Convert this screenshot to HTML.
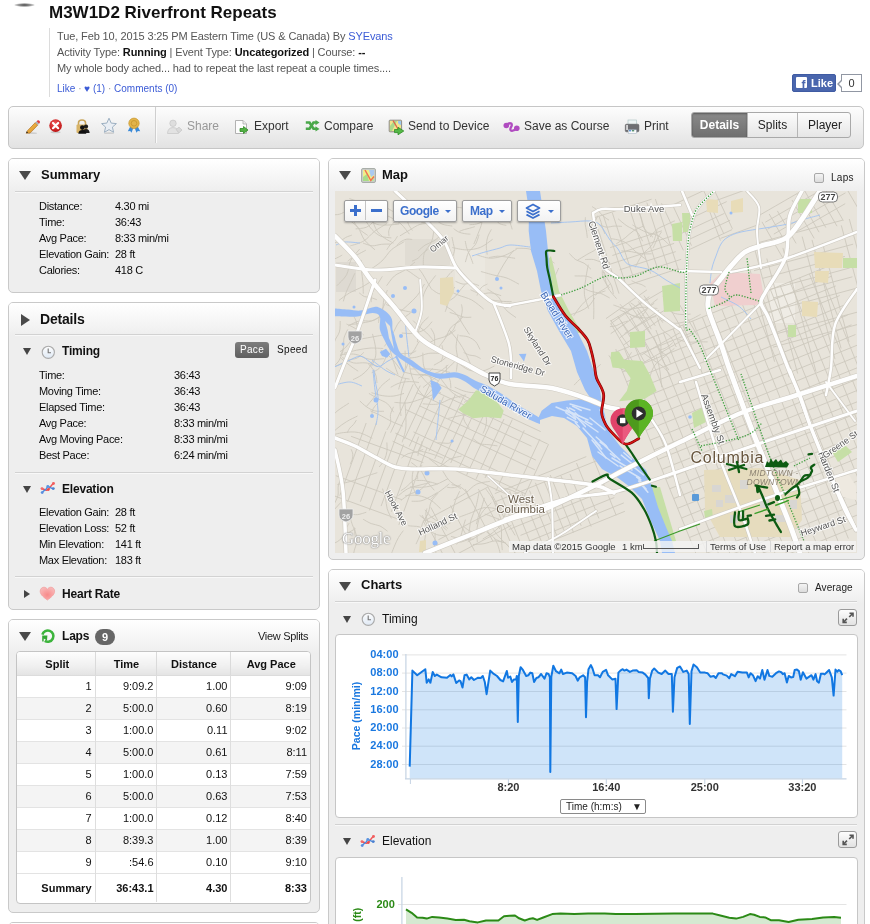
<!DOCTYPE html>
<html><head><meta charset="utf-8">
<style>
*{box-sizing:border-box}
html,body{margin:0;padding:0;background:#fff}
body{width:870px;height:924px;overflow:hidden;position:relative;font-family:"Liberation Sans",Arial,sans-serif;color:#222}
.a{position:absolute;white-space:nowrap}
.blob{left:14px;top:3px;width:21px;height:4px;border-radius:50%;background:radial-gradient(ellipse at center,#444 0%,rgba(80,80,80,.55) 45%,rgba(255,255,255,0) 75%)}
.title{left:49px;top:3px;font-size:17px;font-weight:bold;color:#111;line-height:20px}
.vline{left:49px;top:28px;width:1px;height:69px;background:#dcdcdc}
.meta{left:57px;font-size:11px;color:#555;line-height:14px;letter-spacing:-0.12px}
.meta b{color:#111}
.meta .lnk{color:#3b5bd6}
.likes{left:57px;top:83px;font-size:10px;color:#3b5bd6;line-height:12px}
.likes .dot{color:#999}
.fb{left:792px;top:74px;width:44px;height:18px;background:#4a66ad;border:1px solid #3f5ba3;border-radius:2px}
.fbcount{left:841px;top:74px;width:21px;height:18px;border:1px solid #9197a3;background:#fff;font-size:11px;color:#333;text-align:center;line-height:16px}
.fbcount:before{content:"";position:absolute;left:-5px;top:5px;width:0;height:0;border-top:4px solid transparent;border-bottom:4px solid transparent;border-right:4px solid #9197a3}
.fbcount:after{content:"";position:absolute;left:-3px;top:6px;width:0;height:0;border-top:3px solid transparent;border-bottom:3px solid transparent;border-right:3px solid #fff}

.toolbar{left:8px;top:106px;width:856px;height:43px;border:1px solid #c6c6c6;border-radius:5px;background:linear-gradient(#fdfdfd,#f1f1f1 45%,#e2e2e2)}
.tb{font-size:12px;color:#333;top:119px;line-height:14px}
.tbsep{left:155px;top:107px;width:1px;height:36px;background:#cfcfcf;box-shadow:1px 0 0 #fafafa}
.btngrp{left:691px;top:112px;height:26px;width:160px;border:1px solid #a9a9a9;border-radius:3px;overflow:hidden;background:linear-gradient(#fcfcfc,#e6e6e6)}
.btngrp div{position:absolute;top:0;height:24px;font-size:12px;line-height:24px;text-align:center;color:#222}

.panel{border:1px solid #c9c9c9;border-radius:5px;background:#eeeeee;overflow:hidden}
.phead{position:absolute;left:0;top:0;right:0;height:33px;background:linear-gradient(#ffffff,#eeeeee)}
.ptitle{font-size:13px;font-weight:bold;color:#111;line-height:16px}
.tri-d{width:0;height:0;border-left:6px solid transparent;border-right:6px solid transparent;border-top:9px solid #4a4a4a}
.tri-ds{width:0;height:0;border-left:4.5px solid transparent;border-right:4.5px solid transparent;border-top:7px solid #444}
.tri-r{width:0;height:0;border-top:6px solid transparent;border-bottom:6px solid transparent;border-left:9px solid #4a4a4a}
.tri-rs{width:0;height:0;border-top:4.5px solid transparent;border-bottom:4.5px solid transparent;border-left:6px solid #444}
.sep{height:1px;background:#d2d2d2;box-shadow:0 1px 0 #f8f8f8}
.lbl{font-size:11px;color:#0a0a0a;letter-spacing:-0.3px;line-height:16px}
.sub{font-size:12px;font-weight:bold;color:#111;letter-spacing:-0.2px;line-height:14px}
.pace{left:235px;top:342px;width:34px;height:16px;border-radius:3px;background:linear-gradient(#7d7d7d,#5f5f5f);color:#fff;font-size:10px;line-height:16px;text-align:center;letter-spacing:0.3px}
.badge{left:95px;top:629px;width:20px;height:16px;border-radius:8px;background:#666;color:#fff;font-size:11px;font-weight:bold;line-height:16px;text-align:center}
.laptbl{left:16px;top:651px;width:295px;height:253px;border:1px solid #c4c4c4;border-radius:4px;background:#fff;overflow:hidden}
.laptbl table{border-collapse:collapse;table-layout:fixed;width:293px}
.laptbl th{height:23px;padding:2px 0 0 2px;font-size:11px;font-weight:bold;color:#111;text-align:center;background:linear-gradient(#fdfdfd,#f0f0f0 60%,#e4e4e4);border-left:1px solid #dadada;border-bottom:1px solid #dcdcdc;line-height:14px}
.laptbl td{height:22px;padding:0 2px 0 0;font-size:11px;color:#111;text-align:right;border-left:1px solid #dedede;border-top:1px solid #e3e3e3;line-height:14px}
.laptbl th:first-child,.laptbl td:first-child{border-left:none;padding-right:3px}
.laptbl th:first-child{padding-left:6px}
.laptbl td:last-child{padding-right:3px}
.laptbl tr.even td{background:#f4f4f4}
.laptbl tr.sm td{height:29px;font-weight:bold;color:#111}
.chk{width:10px;height:10px;border:1px solid #a8a8a8;border-radius:2px;background:linear-gradient(#f4f4f4,#dcdcdc)}
.mapbox{left:335px;top:191px;width:522px;height:362px;border:1px solid #c2c2c2;border-radius:3px;overflow:hidden;background:#e9e5dc}
.chartbox{background:#fff;border:1px solid #c6c6c6;border-radius:4px}
.expbtn{width:19px;height:17px;border:1px solid #9a9a9a;border-radius:3px;background:linear-gradient(#fdfdfd,#e2e2e2)}
.seldd{left:560px;top:799px;width:86px;height:15px;border:1px solid #8a8a8a;border-radius:2px;background:#fff;font-size:10px;line-height:13px;color:#222}
.seldd span{position:absolute;left:5px;top:0}
.seldd .arr{left:71px;font-size:10px}
.mctl{background:linear-gradient(#ffffff,#f2f2f2);border:1px solid #9d9d9d;border-radius:2px;box-shadow:0 1px 2px rgba(0,0,0,.3)}
.mplus{position:absolute;background:#3b6fcc}
.mtxt{position:absolute;top:3px;font-size:12px;font-weight:bold;color:#3b6fcc;line-height:15px;letter-spacing:-0.45px}
.mcar{position:absolute;top:9px;width:0;height:0;border-left:3px solid transparent;border-right:3px solid transparent;border-top:3px solid #3b6fcc}
.gl{left:342px;top:529px;font-family:"Liberation Serif",serif;font-size:17px;color:#fff;letter-spacing:-0.3px;text-shadow:0 0 1px #666,0 0 2px #999}
.attr1,.attr2,.attr3,.attr4{top:541px;height:11px;background:rgba(245,245,245,.78);font-size:9.5px;color:#333;line-height:11px;padding:0 3px}
.attr1{left:509px;width:109px}
.attr2{left:618px;width:88px}
.attr3{left:706px;width:64px;border-left:1px solid #d8d8d8}
.attr4{left:770px;width:86px;border-left:1px solid #d8d8d8}
.sbar{position:absolute;left:25px;top:3px;width:56px;height:5px;border:1.5px solid #555;border-top:none}
</style></head>
<body>
<!-- HEADER -->
<div class="a blob"></div>
<div class="a title">M3W1D2 Riverfront Repeats</div>
<div class="a vline"></div>
<div class="a meta" style="top:29px">Tue, Feb 10, 2015 3:25 PM Eastern Time (US &amp; Canada) By <span class="lnk">SYEvans</span></div>
<div class="a meta" style="top:45px">Activity Type: <b>Running</b> | Event Type: <b>Uncategorized</b> | Course: <b>--</b></div>
<div class="a meta" style="top:61px">My whole body ached... had to repeat the last repeat a couple times....</div>
<div class="a likes">Like <span class="dot">·</span> ♥ (1) <span class="dot">·</span> Comments (0)</div>
<div class="a fb"><div style="position:absolute;left:3px;top:2px;width:11px;height:11px;background:#fff;border-radius:1px"></div><div style="position:absolute;left:8.5px;top:3.5px;font-family:'Liberation Sans';font-weight:bold;font-size:12px;line-height:12px;color:#4a66ad">f</div><div style="position:absolute;left:18px;top:1px;font-size:11px;font-weight:bold;color:#fff;line-height:14px">Like</div></div>
<div class="a fbcount">0</div>

<!-- TOOLBAR -->
<div class="a toolbar"></div>
<div class="a tbsep"></div>
<!--TBICONS-->
<svg class="a" style="left:24px;top:118px" width="16" height="17" viewBox="0 0 16 17">
 <defs><linearGradient id="pb" x1="0" y1="0" x2="1" y2="1"><stop offset="0" stop-color="#f6c860"/><stop offset="1" stop-color="#d98a1c"/></linearGradient></defs>
 <ellipse cx="8" cy="15.2" rx="5" ry="0.9" fill="rgba(0,0,0,.12)"/>
 <path d="M3.6,12.6 L11.3,4.6 L13.8,7.1 L6.1,15.1 L2.2,15.2 Z" fill="url(#pb)" stroke="#a8661a" stroke-width="0.6"/>
 <path d="M11.3,4.6 L12.6,3.3 L15.1,5.8 L13.8,7.1Z" fill="#aab0b8"/>
 <path d="M12.6,3.3 L13.4,2.5 Q14.2,1.8 15,2.6 L15.7,3.3 Q16.3,4.1 15.6,4.9 L15.1,5.8Z" fill="#e23b3b"/>
 <path d="M2.2,15.2 L2.7,13.3 L4.1,14.7Z" fill="#222"/>
</svg>
<svg class="a" style="left:48px;top:118px" width="16" height="16" viewBox="0 0 16 16">
 <defs><radialGradient id="xr" cx="0.45" cy="0.35" r="0.7"><stop offset="0" stop-color="#f25a5a"/><stop offset="1" stop-color="#b80d0d"/></radialGradient></defs>
 <ellipse cx="7.6" cy="14.2" rx="5" ry="1" fill="rgba(0,0,0,.15)"/>
 <circle cx="7.6" cy="7.6" r="6.3" fill="url(#xr)"/>
 <path d="M5,5 L10.2,10.2 M10.2,5 L5,10.2" stroke="#fff" stroke-width="2.2" stroke-linecap="round"/>
</svg>
<svg class="a" style="left:75px;top:119px" width="16" height="16" viewBox="0 0 16 16">
 <path d="M3.5,6 V3.8 Q3.5,1 7,1 Q10.5,1 10.5,3.8 V6" fill="none" stroke="#c9a55a" stroke-width="1.6"/>
 <rect x="1.5" y="5.5" width="11" height="8.5" rx="1" fill="#d8b468"/>
 <circle cx="11" cy="7.6" r="2.1" fill="#1e1e1e"/><path d="M7.4,14 Q7.6,10 11,10 Q14.4,10 14.6,14Z" fill="#1e1e1e"/>
 <circle cx="7.3" cy="8.6" r="2.3" fill="#111"/><path d="M3.3,14.8 Q3.5,11 7.3,11 Q11.1,11 11.3,14.8Z" fill="#111"/>
</svg>
<svg class="a" style="left:100px;top:117px" width="18" height="18" viewBox="0 0 18 18">
 <ellipse cx="9" cy="16.2" rx="5" ry="0.9" fill="rgba(0,0,0,.12)"/>
 <path d="M9,1.2 L11.2,6.1 L16.4,6.6 L12.4,10.1 L13.6,15.3 L9,12.6 L4.4,15.3 L5.6,10.1 L1.6,6.6 L6.8,6.1Z" fill="#e9eef4" stroke="#9db0c2" stroke-width="1" stroke-linejoin="round"/>
</svg>
<svg class="a" style="left:126px;top:117px" width="16" height="17" viewBox="0 0 16 17">
 <path d="M4.5,9 L1.8,14.3 L4.2,14 L5.5,15.8 L7.5,10.5Z" fill="#3a8ad8"/>
 <path d="M11.5,9 L14.2,14.3 L11.8,14 L10.5,15.8 L8.5,10.5Z" fill="#3a8ad8"/>
 <circle cx="8" cy="6.3" r="5.2" fill="#e2b44a" stroke="#c8962c" stroke-width="0.7"/>
 <circle cx="8" cy="6.3" r="2.8" fill="none" stroke="#c8962c" stroke-width="0.8"/>
</svg>
<svg class="a" style="left:166px;top:119px" width="17" height="16" viewBox="0 0 17 16">
 <circle cx="7" cy="4.3" r="3.2" fill="#dedede" stroke="#c9c9c9" stroke-width="0.8"/>
 <path d="M1.5,14.5 Q1.8,8.6 7,8.6 Q12.2,8.6 12.5,14.5Z" fill="#e2e2e2" stroke="#c9c9c9" stroke-width="0.8"/>
 <path d="M10,10.5 L13,8.2 L16,11 L13,13.8Z" fill="#d9d9d9" stroke="#c6c6c6" stroke-width="0.7"/>
</svg>
<svg class="a" style="left:234px;top:119px" width="16" height="16" viewBox="0 0 16 16">
 <path d="M1.5,1.5 H9 L12.5,5 V14.5 H1.5Z" fill="#fdfdfd" stroke="#a9a9a9" stroke-width="0.9"/>
 <path d="M9,1.5 V5 H12.5" fill="#eee" stroke="#a9a9a9" stroke-width="0.8"/>
 <path d="M6,9.5 H9.5 V7.5 L14,11 L9.5,14.5 V12.5 H6Z" fill="#52b043" stroke="#2e8a24" stroke-width="0.8" stroke-linejoin="round"/>
</svg>
<svg class="a" style="left:305px;top:120px" width="15" height="12" viewBox="0 0 15 12">
 <path d="M0.8,2.5 H4.5 L8.5,8.8 H11" fill="none" stroke="#4aa84a" stroke-width="2.6"/>
 <path d="M0.8,8.8 H4.5 L8.5,2.5 H11" fill="none" stroke="#4aa84a" stroke-width="2.6"/>
 <path d="M10.5,0 L14.5,2.6 L10.5,5.2Z" fill="#4aa84a"/><path d="M10.5,6.3 L14.5,8.9 L10.5,11.5Z" fill="#4aa84a"/>
</svg>
<svg class="a" style="left:388px;top:119px" width="17" height="17" viewBox="0 0 17 17">
 <rect x="1.2" y="1.2" width="12.4" height="11.6" rx="0.8" fill="#f2e68c" stroke="#8a8a8a" stroke-width="1"/>
 <path d="M2,7 L6,2 L9,2 L4,12 L2,12Z" fill="#a9d98a"/><path d="M10,2 H13 V6 Q11,6 10,4Z" fill="#9cc8ef"/>
 <path d="M5,1.5 L10,10" stroke="#e0604a" stroke-width="1.3"/>
 <path d="M6.5,10.5 H10 V8.3 L15.8,12 L10,15.8 V13.6 H6.5Z" fill="#55b847" stroke="#2f8e25" stroke-width="0.8" stroke-linejoin="round"/>
</svg>
<svg class="a" style="left:503px;top:121px" width="18" height="12" viewBox="0 0 18 12">
 <circle cx="3.3" cy="4.5" r="2.8" fill="#b04cc0"/><circle cx="13.8" cy="7.2" r="2.8" fill="#b04cc0"/>
 <path d="M3.5,4.2 Q6,1.5 8.3,2.5 Q9.5,4 7.8,6.5 Q6.5,9.5 9,9.8 Q11.5,9.8 13.5,7.3" fill="none" stroke="#b04cc0" stroke-width="2.3" stroke-linecap="round"/>
</svg>
<svg class="a" style="left:624px;top:119px" width="16" height="16" viewBox="0 0 16 16">
 <rect x="4" y="1" width="8.6" height="4.5" fill="#eef4f4" stroke="#a8c0c0" stroke-width="0.6"/>
 <rect x="1.3" y="5.2" width="13.6" height="7.6" rx="1.2" fill="#6e6e72" stroke="#555" stroke-width="0.5"/>
 <rect x="2.3" y="6" width="1.5" height="5" fill="#eee"/>
 <rect x="4.2" y="10.8" width="8.2" height="3.8" fill="#fafafa" stroke="#9ab" stroke-width="0.5"/>
 <rect x="5" y="11.3" width="2.2" height="1" fill="#2a70c8"/><rect x="8" y="11.3" width="2.2" height="1" fill="#1a6a3a"/>
</svg>
<!--/TBICONS-->

<div class="a tb" style="left:187px;color:#999">Share</div>
<div class="a tb" style="left:254px">Export</div>
<div class="a tb" style="left:324px">Compare</div>
<div class="a tb" style="left:408px">Send to Device</div>
<div class="a tb" style="left:524px">Save as Course</div>
<div class="a tb" style="left:644px">Print</div>
<div class="a btngrp">
  <div style="left:0;width:55px;background:linear-gradient(#8a8a8a,#6f6f6f);color:#fff;font-weight:bold;box-shadow:inset 0 1px 2px rgba(0,0,0,.35)">Details</div>
  <div style="left:55px;width:50px;border-left:1px solid #b5b5b5">Splits</div>
  <div style="left:105px;width:55px;border-left:1px solid #b5b5b5">Player</div>
</div>

<!-- SUMMARY PANEL -->
<div class="a panel" style="left:8px;top:158px;width:312px;height:135px">
  <div class="phead"></div>
</div>
<div class="a tri-d" style="left:19px;top:171px"></div>
<div class="a ptitle" style="left:41px;top:167px">Summary</div>
<div class="a sep" style="left:15px;top:191px;width:298px"></div>
<div class="a lbl" style="left:39px;top:198px">Distance:<br>Time:<br>Avg Pace:<br>Elevation Gain:<br>Calories:</div>
<div class="a lbl" style="left:115px;top:198px">4.30 mi<br>36:43<br>8:33 min/mi<br>28 ft<br>418 C</div>

<!-- DETAILS PANEL -->
<div class="a panel" style="left:8px;top:302px;width:312px;height:308px">
  <div class="phead"></div>
</div>
<div class="a tri-r" style="left:21px;top:314px"></div>
<div class="a ptitle" style="left:40px;top:311px;font-size:14px;letter-spacing:-0.2px">Details</div>
<div class="a sep" style="left:15px;top:334px;width:298px"></div>

<!-- timing -->
<div class="a tri-ds" style="left:23px;top:348px"></div>
<div class="a sub" style="left:62px;top:344px">Timing</div>
<div class="a pace">Pace</div>
<div class="a" style="left:277px;top:344px;font-size:10px;color:#111;line-height:12px;letter-spacing:0.35px">Speed</div>
<div class="a lbl" style="left:39px;top:367px">Time:<br>Moving Time:<br>Elapsed Time:<br>Avg Pace:<br>Avg Moving Pace:<br>Best Pace:</div>
<div class="a lbl" style="left:174px;top:367px">36:43<br>36:43<br>36:43<br>8:33 min/mi<br>8:33 min/mi<br>6:24 min/mi</div>
<div class="a sep" style="left:15px;top:472px;width:298px"></div>
<!-- elevation -->
<div class="a tri-ds" style="left:23px;top:486px"></div>
<div class="a sub" style="left:62px;top:482px">Elevation</div>
<div class="a lbl" style="left:39px;top:504px">Elevation Gain:<br>Elevation Loss:<br>Min Elevation:<br>Max Elevation:</div>
<div class="a lbl" style="left:115px;top:504px">28 ft<br>52 ft<br>141 ft<br>183 ft</div>
<div class="a sep" style="left:15px;top:576px;width:298px"></div>
<!-- heart -->
<div class="a tri-rs" style="left:24px;top:590px"></div>
<div class="a sub" style="left:62px;top:587px">Heart Rate</div>

<!-- LAPS PANEL -->
<div class="a panel" style="left:8px;top:619px;width:312px;height:294px">
  <div class="phead"></div>
</div>
<div class="a tri-d" style="left:19px;top:632px"></div>
<div class="a sub" style="left:62px;top:629px">Laps</div>
<div class="a badge">9</div>
<div class="a" style="left:258px;top:630px;font-size:11px;color:#222;line-height:12px;letter-spacing:-0.3px">View Splits</div>

<div class="a laptbl">
<table>
<colgroup><col style="width:78px"><col style="width:61px"><col style="width:74px"><col></colgroup>
<tr class="hd"><th>Split</th><th>Time</th><th>Distance</th><th>Avg Pace</th></tr>
<tr class="odd"><td>1</td><td>9:09.2</td><td>1.00</td><td>9:09</td></tr><tr class="even"><td>2</td><td>5:00.0</td><td>0.60</td><td>8:19</td></tr><tr class="odd"><td>3</td><td>1:00.0</td><td>0.11</td><td>9:02</td></tr><tr class="even"><td>4</td><td>5:00.0</td><td>0.61</td><td>8:11</td></tr><tr class="odd"><td>5</td><td>1:00.0</td><td>0.13</td><td>7:59</td></tr><tr class="even"><td>6</td><td>5:00.0</td><td>0.63</td><td>7:53</td></tr><tr class="odd"><td>7</td><td>1:00.0</td><td>0.12</td><td>8:40</td></tr><tr class="even"><td>8</td><td>8:39.3</td><td>1.00</td><td>8:39</td></tr><tr class="odd"><td>9</td><td>:54.6</td><td>0.10</td><td>9:10</td></tr>
<tr class="sm"><td>Summary</td><td>36:43.1</td><td>4.30</td><td>8:33</td></tr>
</table>
</div>

<div class="a panel" style="left:8px;top:922px;width:312px;height:40px"><div class="phead"></div></div>
<!-- MAP PANEL -->
<div class="a panel" style="left:328px;top:158px;width:537px;height:402px">
  <div class="phead"></div>
</div>
<div class="a tri-d" style="left:339px;top:171px"></div>
<div class="a ptitle" style="left:382px;top:167px">Map</div>
<div class="a chk" style="left:814px;top:173px"></div>
<div class="a" style="left:831px;top:172px;font-size:10px;color:#222;line-height:12px;letter-spacing:0.3px">Laps</div>
<div class="a mapbox" id="map"></div>
<!--MAPSVG-->
<svg class="a" style="left:335px;top:191px" width="522" height="362" viewBox="335 191 522 362"><rect x="335" y="191" width="522" height="362" fill="#e8e4db"/>
<rect x="405" y="239" width="45" height="26" fill="#e0dcd3"/>
<rect x="336" y="262" width="20" height="30" fill="#dedad2"/>
<rect x="455" y="250" width="30" height="40" fill="#ebe8e0"/>
<rect x="770" y="283" width="25" height="40" fill="#efece5"/>
<rect x="780" y="468" width="40" height="30" fill="#ece9e2"/>
<g fill="none" stroke="#cdc8bd" stroke-width="0.9"><path d="M614.7,352.5 L712.1,593.6"/><path d="M624.4,348.6 L721.8,589.7"/><path d="M634.1,344.7 L731.5,585.7"/><path d="M643.9,340.7 L741.3,581.8"/><path d="M653.6,336.8 L751.0,577.9"/><path d="M663.4,332.9 L760.7,573.9"/><path d="M673.1,328.9 L770.5,570.0"/><path d="M682.8,325.0 L780.2,566.1"/><path d="M692.6,321.1 L790.0,562.1"/><path d="M702.3,317.1 L799.7,558.2"/><path d="M712.0,313.2 L809.4,554.3"/><path d="M721.8,309.3 L819.2,550.3"/><path d="M731.5,305.3 L828.9,546.4"/><path d="M741.2,301.4 L838.6,542.5"/><path d="M751.0,297.5 L848.4,538.5"/><path d="M760.7,293.5 L858.1,534.6"/><path d="M770.4,289.6 L867.8,530.7"/><path d="M780.2,285.7 L877.6,526.7"/><path d="M789.9,281.7 L887.3,522.8"/><path d="M799.6,277.8 L897.0,518.9"/><path d="M809.4,273.9 L906.8,514.9"/><path d="M819.1,269.9 L916.5,511.0"/><path d="M614.7,352.5 L827.9,266.4"/><path d="M618.6,362.3 L831.9,276.1"/><path d="M622.5,372.0 L835.8,285.9"/><path d="M626.5,381.8 L839.7,295.6"/><path d="M630.4,391.5 L843.7,305.3"/><path d="M634.3,401.2 L847.6,315.1"/><path d="M638.3,411.0 L851.5,324.8"/><path d="M642.2,420.7 L855.5,334.5"/><path d="M646.1,430.4 L859.4,344.3"/><path d="M650.1,440.2 L863.3,354.0"/><path d="M654.0,449.9 L867.3,363.7"/><path d="M657.9,459.6 L871.2,373.5"/><path d="M661.9,469.4 L875.1,383.2"/><path d="M665.8,479.1 L879.1,392.9"/><path d="M669.7,488.8 L883.0,402.7"/><path d="M673.7,498.6 L886.9,412.4"/><path d="M677.6,508.3 L890.9,422.2"/><path d="M681.5,518.0 L894.8,431.9"/><path d="M685.5,527.8 L898.7,441.6"/><path d="M689.4,537.5 L902.7,451.4"/><path d="M693.3,547.3 L906.6,461.1"/><path d="M697.3,557.0 L910.5,470.8"/><path d="M701.2,566.7 L914.5,480.6"/><path d="M705.1,576.5 L918.4,490.3"/><path d="M709.1,586.2 L922.3,500.0"/><path d="M748.4,263.8 L774.6,361.7"/><path d="M753.8,245.8 L789.0,377.2"/><path d="M766.8,258.5 L797.7,373.6"/><path d="M782.9,247.9 L816.0,371.6"/><path d="M802.2,236.6 L835.0,359.1"/><path d="M812.0,239.9 L841.1,348.5"/><path d="M822.5,243.2 L849.0,341.9"/><path d="M841.3,225.4 L873.5,345.6"/><path d="M849.3,219.0 L883.9,347.9"/><path d="M759.0,242.5 L842.9,220.1"/><path d="M754.0,270.7 L853.1,244.2"/><path d="M762.9,278.3 L844.9,256.4"/><path d="M766.6,290.3 L849.7,268.0"/><path d="M773.1,298.0 L852.4,276.8"/><path d="M764.6,312.9 L855.4,288.5"/><path d="M774.1,334.4 L858.9,311.7"/><path d="M772.9,347.2 L874.7,319.9"/><path d="M661.5,203.3 L683.4,250.4"/><path d="M672.3,204.4 L691.5,245.6"/><path d="M700.6,184.1 L723.9,234.0"/><path d="M709.6,180.0 L732.4,228.8"/><path d="M668.9,206.8 L711.1,187.1"/><path d="M676.7,224.9 L726.7,201.6"/><path d="M676.6,235.7 L724.4,213.4"/><path d="M686.1,240.8 L730.1,220.3"/><path d="M688.7,249.9 L732.1,229.6"/><path d="M610.8,323.5 L638.4,371.3"/><path d="M620.9,320.9 L644.9,362.6"/><path d="M630.2,316.1 L655.1,359.3"/><path d="M637.3,310.3 L662.8,354.6"/><path d="M663.1,296.5 L686.3,336.8"/><path d="M670.0,288.0 L697.4,335.6"/><path d="M610.4,321.1 L664.2,290.0"/><path d="M624.6,333.4 L677.9,302.7"/><path d="M641.1,355.1 L685.1,329.7"/><path d="M640.7,364.3 L693.5,333.8"/><path d="M597.0,226.0 L619.0,293.6"/><path d="M603.2,215.1 L626.6,287.2"/><path d="M612.3,212.7 L633.1,276.9"/><path d="M629.0,207.0 L650.7,273.8"/><path d="M638.2,208.9 L657.9,269.7"/><path d="M646.8,202.6 L667.6,266.5"/><path d="M655.4,199.1 L679.6,273.5"/><path d="M595.1,217.5 L651.6,199.2"/><path d="M610.2,247.6 L662.0,230.8"/><path d="M612.4,255.5 L671.3,236.3"/><path d="M610.0,264.2 L674.1,243.4"/><path d="M619.7,269.8 L675.7,251.6"/><path d="M618.3,279.7 L681.2,259.3"/><path d="M624.7,286.2 L678.4,268.7"/><path d="M762.0,221.9 L783.1,258.5"/><path d="M769.2,214.0 L789.2,248.7"/><path d="M777.4,210.9 L796.1,243.4"/><path d="M792.0,200.0 L814.2,238.4"/><path d="M797.2,194.1 L819.1,232.2"/><path d="M804.3,190.2 L825.8,227.5"/><path d="M814.0,186.3 L837.0,226.2"/><path d="M820.6,181.3 L843.4,220.7"/><path d="M837.3,172.5 L857.8,207.9"/><path d="M758.5,215.8 L832.0,173.4"/><path d="M765.3,222.2 L835.0,182.0"/><path d="M767.6,229.2 L839.9,187.5"/><path d="M773.8,234.1 L845.5,192.8"/><path d="M783.7,239.2 L845.2,203.7"/><path d="M709.0,209.5 L720.4,240.6"/><path d="M710.2,202.7 L744.0,190.4"/><path d="M720.5,238.4 L759.7,224.2"/><path d="M610.5,320.1 L628.9,346.4"/><path d="M617.6,316.3 L635.2,341.5"/><path d="M623.7,311.1 L644.1,340.3"/><path d="M628.8,303.2 L650.6,334.3"/><path d="M638.3,301.4 L655.3,325.8"/><path d="M643.9,295.6 L662.8,322.6"/><path d="M606.0,318.6 L646.9,289.9"/><path d="M610.6,323.7 L649.3,296.7"/><path d="M610.7,333.7 L654.3,303.2"/><path d="M619.8,337.8 L659.0,310.3"/><path d="M623.0,345.4 L664.8,316.1"/><path d="M413.2,384.3 L390.6,432.7"/><path d="M420.2,385.6 L397.0,435.3"/><path d="M430.6,382.9 L404.4,439.1"/><path d="M437.8,385.4 L409.2,446.5"/><path d="M443.7,396.5 L418.3,450.9"/><path d="M455.3,394.7 L429.0,451.1"/><path d="M464.1,395.9 L434.7,458.8"/><path d="M471.0,400.8 L441.6,463.9"/><path d="M478.8,402.7 L450.7,463.0"/><path d="M483.1,416.3 L459.2,467.5"/><path d="M494.7,414.8 L466.7,474.9"/><path d="M504.0,419.0 L476.1,478.9"/><path d="M512.3,419.6 L485.0,478.0"/><path d="M524.3,430.3 L495.9,491.1"/><path d="M539.9,439.1 L515.6,491.3"/><path d="M548.6,444.2 L520.5,504.3"/><path d="M433.2,381.5 L540.7,431.6"/><path d="M433.3,390.6 L547.7,444.0"/><path d="M416.7,392.7 L531.5,446.2"/><path d="M419.5,405.8 L535.9,460.1"/><path d="M405.6,409.5 L534.9,469.8"/><path d="M413.5,431.9 L510.7,477.2"/><path d="M395.3,433.1 L525.4,493.8"/><path d="M392.6,441.2 L518.4,499.8"/><path d="M366.2,423.0 L339.8,495.7"/><path d="M376.8,421.8 L347.6,502.1"/><path d="M385.9,431.5 L360.4,501.7"/><path d="M397.7,432.5 L369.4,510.4"/><path d="M403.6,444.4 L381.1,506.1"/><path d="M418.7,436.6 L391.3,511.8"/><path d="M427.0,447.6 L398.9,524.8"/><path d="M351.1,436.3 L423.3,462.6"/><path d="M335.9,475.7 L401.8,499.7"/><path d="M330.2,494.4 L401.1,520.2"/><path d="M491.7,496.1 L517.2,559.2"/><path d="M501.2,495.4 L525.0,554.3"/><path d="M509.6,491.0 L532.8,548.5"/><path d="M521.7,492.7 L542.6,544.4"/><path d="M529.5,490.5 L549.2,539.2"/><path d="M535.4,482.8 L557.0,536.3"/><path d="M544.1,481.2 L564.1,530.6"/><path d="M550.2,475.0 L573.5,532.5"/><path d="M561.0,475.9 L581.2,525.8"/><path d="M570.0,474.2 L591.2,526.6"/><path d="M576.5,463.1 L598.9,518.4"/><path d="M592.5,456.6 L616.2,515.3"/><path d="M494.8,493.6 L586.3,456.6"/><path d="M495.1,501.8 L598.8,459.9"/><path d="M508.8,529.5 L601.3,492.1"/><path d="M520.5,535.4 L614.3,497.5"/><path d="M515.4,546.7 L623.8,502.9"/><path d="M531.6,549.0 L624.9,511.3"/><path d="M422.1,515.1 L445.3,558.7"/><path d="M430.8,507.4 L456.7,556.2"/><path d="M450.5,505.5 L474.7,551.2"/><path d="M465.1,489.0 L492.9,541.2"/><path d="M478.4,489.1 L499.7,529.0"/><path d="M487.6,486.4 L509.1,526.9"/><path d="M425.0,520.5 L487.6,487.2"/><path d="M438.4,539.8 L501.6,506.3"/><path d="M450.5,557.6 L511.4,525.3"/><path d="M372.9,280.3 C371.0,281.4 365.5,285.1 361.6,287.2 C357.8,289.2 353.5,290.6 349.7,292.8 C345.9,295.0 340.7,299.2 338.9,300.4"/><path d="M397.5,236.2 C397.0,237.0 395.6,239.6 394.3,241.0 C393.1,242.5 391.3,243.4 390.0,244.9 C388.8,246.3 387.4,248.9 386.8,249.7"/><path d="M351.7,203.4 C350.8,204.5 348.7,208.2 346.7,210.0 C344.7,211.8 342.2,213.5 339.6,214.2 C337.1,215.0 332.7,214.6 331.4,214.7"/><path d="M387.7,208.4 C389.1,209.2 393.4,211.8 396.4,213.3 C399.3,214.9 402.2,216.7 405.3,217.7 C408.5,218.8 413.5,219.3 415.1,219.7"/><path d="M415.0,262.0 C413.4,263.3 408.7,267.5 405.3,269.8 C401.9,272.2 397.5,273.3 394.4,276.0 C391.3,278.6 387.9,284.1 386.6,285.7"/><path d="M491.4,229.4 C490.7,230.7 488.4,234.5 487.6,237.2 C486.7,240.0 486.4,243.0 486.3,245.9 C486.2,248.8 487.1,253.1 487.2,254.6"/><path d="M384.2,215.3 C382.6,216.3 377.9,218.9 374.9,220.9 C371.9,222.8 369.5,226.0 366.3,227.3 C363.0,228.6 357.4,228.6 355.6,228.9"/><path d="M431.3,223.1 C429.4,223.4 423.4,223.3 419.9,224.4 C416.3,225.6 413.1,228.1 409.8,230.0 C406.4,231.9 401.5,234.9 399.9,235.9"/><path d="M487.4,284.1 C486.6,284.5 484.0,285.4 482.6,286.5 C481.2,287.6 480.0,289.1 479.1,290.6 C478.1,292.1 477.3,294.7 477.0,295.6"/><path d="M515.1,258.3 C513.7,258.1 509.4,257.4 506.5,257.0 C503.6,256.7 500.7,256.1 497.8,256.2 C494.9,256.3 490.6,257.3 489.2,257.5"/><path d="M480.0,294.6 C481.6,295.4 486.4,298.3 489.9,299.4 C493.3,300.5 497.0,300.8 500.7,301.2 C504.3,301.6 509.8,301.6 511.6,301.6"/><path d="M365.4,220.4 C366.5,221.9 369.3,226.7 371.8,229.4 C374.3,232.0 377.3,234.6 380.5,236.1 C383.8,237.5 389.6,237.6 391.4,237.9"/><path d="M398.9,267.8 C400.2,268.2 404.3,269.0 406.7,270.1 C409.1,271.2 411.3,273.0 413.5,274.6 C415.7,276.1 419.0,278.5 420.1,279.3"/><path d="M351.4,210.1 C351.7,211.9 352.1,217.3 353.4,220.5 C354.7,223.6 356.9,226.6 359.3,229.1 C361.7,231.6 366.3,234.3 367.7,235.4"/><path d="M465.2,241.0 C465.5,242.3 466.1,246.3 467.0,248.8 C467.8,251.4 469.3,253.7 470.3,256.2 C471.3,258.7 472.6,262.6 473.0,263.8"/><path d="M404.3,241.6 C402.2,243.0 395.4,246.4 391.6,249.6 C387.9,252.9 385.6,257.6 381.9,261.0 C378.3,264.4 371.9,268.4 369.9,269.9"/><path d="M376.7,200.6 C375.1,200.6 370.5,200.4 367.4,200.5 C364.3,200.6 361.2,201.6 358.2,201.2 C355.2,200.9 350.9,199.0 349.4,198.5"/><path d="M423.0,216.3 C424.7,216.6 430.1,216.9 433.3,218.2 C436.5,219.5 438.8,222.8 442.0,224.1 C445.2,225.4 450.6,225.7 452.3,226.1"/><path d="M452.0,237.1 C452.2,238.1 452.9,241.3 453.3,243.4 C453.7,245.5 454.5,247.7 454.5,249.8 C454.4,251.9 453.2,255.0 452.9,256.0"/><path d="M359.6,249.1 C358.1,251.0 352.8,256.4 350.6,260.7 C348.5,265.0 348.9,270.6 346.6,274.8 C344.3,279.0 338.5,283.9 336.8,285.8"/><path d="M515.6,248.3 C518.0,248.4 525.3,247.9 529.8,249.1 C534.3,250.3 538.5,253.0 542.6,255.4 C546.7,257.8 552.6,261.9 554.5,263.2"/><path d="M488.4,216.0 C487.6,216.9 485.2,219.7 483.2,221.0 C481.3,222.4 478.9,223.4 476.6,224.0 C474.3,224.6 470.6,224.6 469.5,224.7"/><path d="M372.9,221.8 C373.6,223.4 375.3,228.3 377.2,231.1 C379.1,233.8 381.8,236.1 384.6,238.1 C387.3,240.1 392.0,242.2 393.4,243.1"/><path d="M470.5,289.7 C472.1,290.4 476.9,293.2 480.3,293.7 C483.7,294.3 487.4,292.6 490.9,292.9 C494.4,293.3 499.5,295.2 501.2,295.7"/><path d="M361.2,260.0 C361.3,261.8 361.3,267.5 361.6,271.2 C361.9,275.0 362.6,278.7 362.9,282.4 C363.2,286.2 363.2,291.8 363.3,293.7"/><path d="M416.6,265.9 C417.6,267.1 420.5,270.8 422.3,273.4 C424.0,276.0 425.4,278.8 427.0,281.5 C428.5,284.2 431.0,288.2 431.8,289.6"/><path d="M382.3,276.4 C381.5,277.7 378.9,281.8 377.3,284.5 C375.6,287.2 373.4,289.8 372.4,292.7 C371.4,295.7 371.3,300.6 371.1,302.2"/><path d="M363.1,243.1 C364.6,243.5 369.1,245.6 372.1,245.8 C375.2,246.0 378.3,244.6 381.4,244.3 C384.5,244.0 389.3,244.1 390.8,244.1"/><path d="M354.8,273.3 C354.1,274.9 352.0,279.5 350.6,282.6 C349.2,285.6 347.6,288.6 346.4,291.7 C345.2,294.9 343.8,299.8 343.3,301.4"/><path d="M511.2,213.6 C508.7,214.2 501.5,216.5 496.5,216.8 C491.6,217.1 486.6,215.1 481.7,215.4 C476.7,215.6 469.5,218.0 467.0,218.5"/><path d="M516.7,249.2 C514.6,250.3 508.5,254.1 504.1,255.6 C499.7,257.1 494.8,258.3 490.2,258.2 C485.6,258.0 478.7,255.3 476.4,254.7"/><path d="M351.8,235.1 C350.8,235.5 347.6,236.5 345.6,237.5 C343.7,238.5 342.2,240.2 340.2,241.2 C338.2,242.1 334.9,242.7 333.9,243.0"/><path d="M365.8,250.2 C364.8,250.8 361.7,252.4 359.6,253.5 C357.5,254.6 355.3,255.6 353.3,256.8 C351.3,258.1 348.7,260.5 347.7,261.2"/><path d="M346.6,218.2 C348.5,219.7 354.8,223.7 357.7,227.3 C360.7,230.9 361.6,236.2 364.5,240.0 C367.4,243.7 373.2,248.2 375.0,249.8"/><path d="M481.3,211.5 C481.4,213.4 482.3,219.2 481.8,222.9 C481.2,226.5 479.4,230.1 478.1,233.6 C476.8,237.2 474.5,242.4 473.8,244.1"/><path d="M444.4,288.3 C446.6,289.4 453.2,292.9 457.8,294.9 C462.4,296.8 467.5,297.7 471.8,300.0 C476.1,302.4 481.7,307.5 483.7,309.1"/><path d="M387.7,299.0 C387.0,300.3 384.8,304.0 383.5,306.6 C382.2,309.1 380.5,311.6 379.7,314.3 C378.9,317.0 378.8,321.4 378.6,322.8"/><path d="M473.8,204.8 C472.7,205.3 469.4,207.5 467.0,207.9 C464.6,208.4 462.0,207.8 459.5,207.5 C457.0,207.3 453.2,206.6 452.0,206.4"/><path d="M459.5,231.3 C460.3,231.0 462.8,230.0 464.5,229.5 C466.2,229.0 468.0,228.7 469.7,228.2 C471.4,227.8 473.9,226.9 474.8,226.7"/><path d="M432.3,289.6 C433.3,290.2 436.2,292.7 438.4,293.5 C440.6,294.2 443.3,294.5 445.7,294.1 C448.0,293.7 451.2,291.7 452.3,291.2"/><path d="M403.9,210.6 C404.3,211.8 405.7,215.1 406.5,217.4 C407.2,219.7 407.5,222.2 408.5,224.4 C409.4,226.5 411.7,229.4 412.4,230.5"/><path d="M452.3,247.5 C454.7,247.9 461.8,249.9 466.5,249.9 C471.2,249.8 476.3,249.0 480.6,247.3 C484.9,245.5 490.6,240.6 492.6,239.3"/><path d="M454.9,287.1 C454.0,288.3 450.6,291.6 449.4,294.3 C448.3,297.0 448.7,300.3 448.0,303.2 C447.3,306.1 445.7,310.4 445.2,311.8"/><path d="M441.2,235.0 C440.0,236.0 436.5,239.3 433.9,240.9 C431.2,242.6 428.0,243.3 425.3,245.0 C422.7,246.7 419.3,250.0 418.1,251.0"/><path d="M502.6,204.4 C502.9,205.9 503.0,210.6 504.1,213.3 C505.2,216.1 507.9,218.1 509.3,220.8 C510.6,223.5 511.7,227.9 512.2,229.4"/><path d="M342.2,255.1 C341.3,255.6 338.5,257.2 336.5,258.1 C334.6,259.0 332.6,259.7 330.6,260.5 C328.6,261.2 325.6,262.4 324.6,262.8"/><path d="M455.5,281.3 C456.8,281.8 460.5,283.8 463.1,284.1 C465.7,284.4 468.5,283.0 471.1,283.3 C473.8,283.5 477.6,285.2 478.9,285.6"/><path d="M480.9,271.5 C483.1,272.1 489.6,274.0 493.9,275.1 C498.3,276.2 502.8,276.6 507.0,278.1 C511.2,279.7 517.0,283.2 519.0,284.2"/><path d="M421.4,222.6 C422.7,222.4 426.3,222.2 428.7,221.6 C431.1,221.1 433.3,219.9 435.7,219.5 C438.1,219.1 441.8,219.2 443.0,219.2"/><path d="M465.1,284.5 C464.3,285.5 461.7,288.3 460.1,290.3 C458.5,292.3 457.2,294.6 455.4,296.4 C453.6,298.1 450.2,300.1 449.2,300.9"/><path d="M434.2,226.5 C433.8,228.9 433.5,236.5 431.8,241.0 C430.1,245.5 425.6,249.0 424.2,253.5 C422.8,258.1 423.5,265.7 423.4,268.2"/><path d="M386.9,223.6 C384.8,224.9 378.4,228.4 374.6,231.3 C370.8,234.2 367.9,238.5 363.9,240.9 C359.8,243.4 352.6,245.1 350.3,245.9"/><path d="M399.1,223.9 C397.3,224.1 391.6,225.0 387.9,225.0 C384.1,225.1 380.1,225.4 376.6,224.3 C373.1,223.1 368.6,219.4 366.9,218.4"/><path d="M424.5,284.0 C423.3,285.9 420.1,292.0 417.3,295.5 C414.5,299.0 411.0,302.0 407.7,305.1 C404.4,308.2 399.2,312.6 397.5,314.0"/><path d="M395.4,221.2 C394.7,221.9 392.4,223.7 391.3,225.2 C390.2,226.8 389.2,228.6 388.8,230.5 C388.4,232.3 389.0,235.3 389.0,236.2"/><path d="M359.2,292.9 C360.1,293.5 362.5,295.8 364.5,296.6 C366.4,297.4 368.7,297.0 370.8,297.6 C372.9,298.1 375.8,299.4 376.8,299.7"/><path d="M454.1,269.7 C453.4,270.3 451.2,272.1 449.9,273.5 C448.6,274.9 447.7,276.6 446.3,277.8 C444.9,279.1 442.3,280.3 441.5,280.8"/><path d="M487.5,289.1 C489.4,290.5 495.7,293.8 498.6,297.1 C501.6,300.4 502.4,305.6 505.3,309.1 C508.1,312.5 514.2,316.2 516.0,317.6"/><path d="M377.0,211.2 C379.1,212.1 385.4,214.6 389.3,216.7 C393.3,218.8 397.5,220.9 400.8,223.8 C404.1,226.7 408.0,232.4 409.4,234.2"/><path d="M453.7,228.7 C454.5,229.3 456.9,231.2 458.7,232.0 C460.5,232.8 462.5,233.2 464.5,233.6 C466.4,234.0 469.4,234.1 470.4,234.2"/><path d="M416.3,202.1 C417.0,203.2 418.9,206.6 420.4,208.8 C421.9,210.9 423.5,213.0 425.3,214.9 C427.1,216.7 430.2,219.1 431.2,220.0"/><path d="M513.5,250.4 C512.4,251.9 509.0,256.3 506.9,259.4 C504.8,262.5 502.9,265.7 501.1,268.9 C499.2,272.2 496.7,277.2 495.9,278.8"/><path d="M479.1,234.7 C478.5,236.3 477.2,241.5 475.5,244.4 C473.7,247.3 470.3,249.2 468.6,252.2 C467.0,255.1 466.0,260.4 465.4,262.1"/><path d="M487.6,217.0 C488.7,217.3 492.3,217.8 494.3,218.9 C496.3,220.0 497.5,222.6 499.5,223.6 C501.5,224.7 505.2,225.1 506.3,225.4"/><path d="M428.3,249.1 C427.4,249.8 424.6,251.8 422.9,253.3 C421.2,254.8 419.9,256.8 418.1,258.2 C416.3,259.5 413.0,260.7 412.0,261.2"/><path d="M386.9,294.4 C387.5,295.4 389.1,298.6 390.2,300.7 C391.3,302.8 392.1,305.2 393.5,307.1 C395.0,308.9 398.1,310.9 399.0,311.7"/><path d="M454.6,208.1 C452.7,208.8 447.2,211.3 443.5,212.5 C439.7,213.8 435.6,214.2 431.9,215.5 C428.1,216.8 422.7,219.3 420.8,220.1"/><path d="M412.2,239.5 C411.3,239.4 408.2,238.8 406.4,239.2 C404.5,239.6 402.7,240.6 401.0,241.6 C399.4,242.7 397.4,244.9 396.7,245.5"/><path d="M387.4,290.1 C386.8,291.5 384.8,295.5 384.1,298.3 C383.3,301.1 383.3,304.1 383.0,307.0 C382.7,309.9 382.4,314.3 382.3,315.8"/><path d="M435.7,275.4 C434.5,277.0 430.8,281.4 428.8,284.6 C426.8,287.9 424.7,291.2 423.6,294.8 C422.5,298.4 422.4,304.3 422.2,306.2"/><path d="M449.6,353.0 C448.9,353.8 446.9,356.6 445.3,358.1 C443.7,359.6 441.7,360.7 439.8,361.9 C437.9,363.0 434.9,364.6 433.9,365.2"/><path d="M356.4,337.0 C355.4,337.7 352.4,339.8 350.6,341.5 C348.8,343.2 347.6,345.5 345.8,347.2 C344.1,348.9 341.0,351.0 340.0,351.7"/><path d="M449.7,312.4 C450.9,312.8 454.4,313.9 456.8,314.7 C459.1,315.5 461.4,316.8 463.8,317.2 C466.3,317.6 470.1,317.2 471.3,317.2"/><path d="M382.6,315.1 C380.8,316.1 375.6,319.8 371.7,320.8 C367.9,321.7 363.4,320.1 359.4,320.9 C355.5,321.8 350.1,325.0 348.2,325.9"/><path d="M390.0,378.7 C388.4,380.0 383.2,383.7 380.6,386.7 C377.9,389.8 376.5,393.9 374.1,397.2 C371.7,400.5 367.5,405.1 366.2,406.7"/><path d="M353.9,316.5 C354.3,317.3 355.7,319.6 356.2,321.3 C356.8,323.0 357.0,324.8 357.1,326.6 C357.2,328.4 356.9,331.0 356.9,331.9"/><path d="M405.1,350.6 C405.1,351.7 405.0,354.9 405.1,357.0 C405.3,359.1 405.9,361.3 405.8,363.4 C405.8,365.5 405.1,368.7 405.0,369.7"/><path d="M458.0,334.4 C457.7,336.5 456.2,342.6 456.1,346.7 C456.1,350.9 457.6,355.0 457.6,359.2 C457.6,363.3 456.5,369.5 456.3,371.6"/><path d="M454.4,361.9 C452.8,363.5 448.1,368.4 444.6,371.3 C441.2,374.1 437.2,376.4 433.6,379.1 C430.0,381.8 424.8,386.1 423.0,387.5"/><path d="M380.7,350.3 C382.0,351.1 386.0,353.4 388.3,355.4 C390.7,357.3 392.7,359.7 394.7,362.0 C396.7,364.3 399.3,368.1 400.2,369.4"/><path d="M372.5,333.9 C372.9,335.7 374.5,341.1 375.1,344.8 C375.6,348.5 376.3,352.4 375.7,356.0 C375.1,359.6 372.3,364.7 371.6,366.4"/><path d="M363.8,352.4 C362.7,353.3 359.6,356.8 357.0,358.1 C354.5,359.4 351.0,358.9 348.4,360.2 C345.8,361.5 342.7,364.9 341.6,365.9"/><path d="M410.6,312.9 C408.7,314.4 402.4,318.2 399.3,321.8 C396.3,325.4 394.8,330.3 392.3,334.4 C389.9,338.5 385.8,344.4 384.4,346.4"/><path d="M410.3,357.4 C409.7,359.2 407.6,364.5 406.2,368.0 C404.8,371.5 403.2,375.0 401.9,378.6 C400.6,382.1 399.1,387.6 398.6,389.4"/><path d="M463.2,316.8 C462.1,317.8 458.4,320.4 456.6,322.8 C454.8,325.1 454.5,328.5 452.6,330.7 C450.7,332.9 446.5,335.1 445.3,335.9"/><path d="M386.2,304.5 C387.6,305.1 391.8,306.8 394.6,307.8 C397.4,308.8 400.3,309.7 403.2,310.4 C406.1,311.2 410.5,312.0 412.0,312.3"/><path d="M430.8,328.2 C431.3,329.2 433.6,332.3 434.2,334.5 C434.9,336.8 434.5,339.4 434.6,341.8 C434.7,344.2 434.8,347.8 434.8,349.0"/><path d="M368.5,364.1 C369.2,365.0 371.8,367.5 373.1,369.5 C374.4,371.5 375.4,373.7 376.1,376.0 C376.7,378.2 376.8,381.9 377.0,383.0"/><path d="M422.5,337.5 C421.7,338.5 419.3,341.3 418.0,343.3 C416.7,345.3 415.8,347.6 414.5,349.6 C413.1,351.6 410.8,354.4 410.1,355.4"/><path d="M446.4,365.3 C446.5,366.6 446.2,370.7 446.8,373.2 C447.5,375.8 449.5,377.9 450.1,380.5 C450.8,383.0 450.8,387.0 450.9,388.4"/><path d="M386.1,368.1 C387.3,368.9 390.9,371.4 393.4,373.0 C395.9,374.5 398.3,376.3 401.0,377.3 C403.7,378.3 408.1,378.8 409.6,379.1"/><path d="M340.4,357.7 C341.3,358.5 344.2,360.9 346.1,362.5 C348.1,364.0 350.0,365.6 352.0,367.1 C354.0,368.5 357.1,370.5 358.2,371.2"/><path d="M422.8,352.7 C423.0,355.1 422.6,362.5 424.0,367.0 C425.3,371.4 429.4,375.0 431.1,379.4 C432.7,383.8 433.3,391.1 433.8,393.4"/><path d="M457.8,362.7 C459.6,363.9 464.9,368.6 468.9,370.0 C473.0,371.4 477.9,371.8 482.2,371.1 C486.4,370.5 492.4,366.8 494.5,366.0"/><path d="M463.7,352.5 C464.6,352.9 467.3,354.4 469.2,355.0 C471.1,355.6 473.2,355.4 475.1,355.9 C477.0,356.5 479.7,358.1 480.6,358.5"/><path d="M385.0,312.2 C383.3,313.5 378.5,318.1 374.6,319.9 C370.8,321.6 366.3,322.2 362.1,323.0 C357.9,323.8 351.4,324.4 349.3,324.7"/><path d="M441.6,353.5 C439.4,353.5 432.9,352.8 428.7,353.4 C424.5,354.0 420.6,356.3 416.4,357.2 C412.2,358.0 405.7,358.3 403.6,358.5"/><path d="M409.0,359.4 C409.3,361.6 409.7,368.6 410.9,373.0 C412.1,377.5 413.7,381.9 415.9,385.9 C418.2,389.9 422.8,395.2 424.2,397.0"/><path d="M358.1,339.4 C359.7,339.2 364.5,338.4 367.6,337.8 C370.8,337.2 374.0,336.6 377.2,336.1 C380.3,335.5 385.1,334.6 386.7,334.3"/><path d="M410.1,369.0 C412.4,369.0 419.1,368.8 423.5,368.9 C428.0,369.0 432.5,369.0 436.9,369.6 C441.4,370.2 447.8,372.0 450.0,372.4"/><path d="M449.3,330.0 C450.8,331.9 455.7,337.4 458.5,341.4 C461.2,345.3 463.8,349.5 466.0,353.9 C468.2,358.2 470.8,365.0 471.8,367.3"/><path d="M343.7,348.8 C342.8,351.0 340.9,358.2 338.1,361.9 C335.3,365.6 330.7,368.0 327.0,371.0 C323.3,374.0 317.7,378.4 315.8,379.9"/><path d="M403.0,371.8 C405.0,372.3 410.9,374.0 414.9,374.6 C418.9,375.2 423.1,374.5 427.0,375.5 C430.9,376.5 436.2,379.7 438.1,380.6"/><path d="M387.6,338.0 C388.0,340.0 389.2,346.3 390.2,350.4 C391.2,354.5 392.4,358.6 393.7,362.6 C395.0,366.7 397.3,372.6 398.0,374.6"/><path d="M412.0,366.1 C413.5,367.8 418.0,372.6 421.0,375.9 C424.0,379.1 426.7,382.8 430.0,385.7 C433.4,388.5 439.2,391.9 441.0,393.1"/><path d="M405.8,378.0 C405.2,380.0 402.8,386.1 401.8,390.3 C400.9,394.5 400.2,398.8 400.1,403.1 C400.0,407.4 400.8,413.8 401.0,416.0"/><path d="M416.2,350.8 C415.4,351.2 413.1,352.7 411.4,353.2 C409.7,353.6 407.8,353.5 406.0,353.5 C404.2,353.6 401.5,353.6 400.6,353.7"/><path d="M346.5,324.0 C347.5,324.5 350.7,325.9 352.7,327.0 C354.7,328.1 356.7,329.2 358.6,330.6 C360.4,331.9 363.0,334.3 363.8,335.1"/><path d="M442.6,372.8 C441.7,374.4 439.5,379.6 437.4,382.7 C435.4,385.8 432.9,388.6 430.5,391.4 C428.0,394.2 424.0,398.1 422.7,399.4"/><path d="M428.5,317.0 C427.4,318.1 423.5,321.2 421.7,323.8 C420.0,326.4 418.8,329.6 418.1,332.6 C417.4,335.7 417.6,340.6 417.4,342.2"/><path d="M344.8,362.0 C343.0,362.7 337.9,365.6 334.2,366.5 C330.5,367.4 326.5,367.6 322.6,367.4 C318.8,367.1 313.2,365.4 311.3,365.0"/><path d="M413.1,320.6 C414.2,321.7 417.4,325.0 419.7,327.0 C422.0,329.1 424.6,330.8 426.8,333.0 C429.0,335.1 431.9,338.7 432.9,339.8"/><path d="M461.4,304.4 C461.6,305.3 462.3,307.9 462.3,309.7 C462.3,311.5 461.9,313.3 461.5,315.0 C461.2,316.8 460.6,319.4 460.4,320.3"/><path d="M459.4,335.7 C460.9,335.9 465.5,335.9 468.2,336.9 C470.9,337.9 473.7,339.7 475.7,341.7 C477.6,343.8 479.3,348.2 480.0,349.5"/><path d="M401.8,333.0 C403.7,333.1 409.5,333.9 413.2,333.4 C417.0,332.8 421.0,331.8 424.1,329.8 C427.3,327.9 430.8,323.0 432.1,321.6"/><path d="M340.6,354.7 C343.1,354.6 350.5,353.5 355.3,354.3 C360.0,355.0 364.4,358.4 369.1,359.2 C373.9,359.9 381.3,358.8 383.8,358.7"/><path d="M342.3,357.5 C344.2,358.4 349.5,362.0 353.4,362.9 C357.3,363.8 361.7,362.3 365.8,362.9 C369.8,363.4 375.7,365.6 377.6,366.2"/><path d="M432.8,368.4 C432.0,369.1 430.0,371.2 428.4,372.3 C426.8,373.4 425.0,374.2 423.3,375.2 C421.6,376.1 419.1,377.7 418.3,378.2"/><path d="M461.2,320.3 C459.5,321.5 453.8,324.3 451.2,327.2 C448.5,330.1 447.6,334.5 445.5,338.0 C443.3,341.4 439.5,346.1 438.3,347.8"/><path d="M446.3,306.4 C447.9,307.6 453.4,310.8 456.1,313.7 C458.8,316.7 460.5,320.7 462.7,324.1 C464.9,327.6 468.3,332.7 469.4,334.4"/><path d="M347.8,329.4 C347.1,330.8 344.7,335.0 344.0,338.0 C343.3,341.0 344.1,344.3 343.5,347.4 C342.8,350.4 340.8,354.7 340.2,356.2"/><path d="M387.2,351.6 C386.8,353.1 385.9,357.6 384.6,360.4 C383.3,363.1 381.7,366.0 379.5,368.1 C377.4,370.1 373.0,372.0 371.7,372.8"/><path d="M442.0,345.3 C442.2,346.3 442.9,349.0 443.0,350.9 C443.1,352.7 443.2,354.7 442.9,356.5 C442.5,358.3 441.2,360.9 440.9,361.7"/><path d="M383.2,348.5 C380.9,348.4 374.3,347.8 369.9,348.1 C365.5,348.4 361.1,349.3 356.7,350.2 C352.4,351.1 345.9,352.8 343.8,353.3"/><path d="M455.5,330.1 C453.9,331.2 449.6,334.8 446.3,336.3 C443.0,337.8 439.1,338.0 435.8,339.4 C432.4,340.8 427.7,343.8 426.1,344.7"/><path d="M340.2,321.0 C340.1,322.8 340.4,328.5 339.4,331.9 C338.5,335.3 335.4,338.2 334.6,341.6 C333.8,345.1 334.6,350.7 334.6,352.5"/><path d="M448.3,364.9 C446.9,366.0 442.9,369.8 439.7,371.4 C436.6,373.0 433.0,374.0 429.5,374.5 C426.0,374.9 420.5,374.3 418.8,374.3"/><path d="M429.0,373.1 C429.4,374.0 430.9,376.6 431.4,378.4 C432.0,380.3 431.7,382.4 432.2,384.2 C432.7,386.1 434.2,388.7 434.6,389.5"/><path d="M437.5,374.5 C438.7,376.0 442.0,380.4 444.3,383.3 C446.6,386.2 448.6,389.4 451.4,391.8 C454.1,394.3 459.1,396.9 460.6,397.9"/><path d="M373.1,360.1 C372.3,361.5 370.4,366.0 368.5,368.5 C366.5,371.0 364.1,373.3 361.5,375.1 C359.0,377.0 354.5,378.9 353.0,379.6"/><path d="M377.3,472.7 C375.1,473.4 368.4,475.4 364.0,476.9 C359.6,478.3 355.3,480.0 350.9,481.3 C346.5,482.6 339.7,484.0 337.4,484.5"/><path d="M370.3,410.8 C372.1,411.6 377.6,414.0 381.2,415.8 C384.8,417.6 388.1,419.8 391.7,421.5 C395.4,423.2 401.0,425.4 402.8,426.1"/><path d="M422.8,403.8 C425.2,403.9 432.9,404.9 437.7,404.1 C442.5,403.2 446.9,400.0 451.6,398.5 C456.4,397.0 463.7,395.5 466.1,394.8"/><path d="M466.0,405.0 C465.5,406.3 463.5,410.3 463.3,413.0 C463.0,415.7 463.5,418.8 464.6,421.3 C465.6,423.9 468.7,427.1 469.5,428.2"/><path d="M498.5,518.6 C499.0,520.3 500.9,525.3 501.4,528.8 C501.9,532.3 501.3,535.9 501.5,539.5 C501.6,543.0 502.1,548.4 502.3,550.1"/><path d="M491.4,502.8 C489.8,504.5 483.8,509.3 481.4,513.4 C479.0,517.5 477.9,522.6 477.2,527.4 C476.5,532.2 477.2,539.6 477.3,542.1"/><path d="M368.9,393.4 C370.4,394.3 375.0,397.0 378.0,398.7 C381.1,400.5 384.8,401.5 387.4,403.7 C390.0,406.0 392.6,410.8 393.6,412.2"/><path d="M485.6,390.3 C485.7,391.8 486.7,396.3 486.2,399.2 C485.8,402.1 483.6,404.7 482.8,407.5 C482.1,410.4 481.8,414.9 481.6,416.4"/><path d="M430.3,482.5 C428.4,483.0 422.7,484.3 419.0,485.3 C415.2,486.4 411.2,487.0 407.8,488.7 C404.3,490.5 399.9,494.5 398.4,495.7"/><path d="M494.5,538.7 C495.3,539.1 497.7,540.4 499.4,541.0 C501.0,541.7 503.0,541.8 504.5,542.6 C506.0,543.5 507.9,545.6 508.6,546.1"/><path d="M484.7,514.0 C486.7,514.7 492.9,516.7 496.8,518.5 C500.7,520.2 505.0,521.8 508.0,524.7 C511.1,527.5 513.9,533.6 515.1,535.4"/><path d="M348.9,403.2 C346.9,404.5 340.7,408.2 337.0,411.2 C333.3,414.3 330.4,418.2 326.9,421.5 C323.4,424.7 317.7,429.2 315.9,430.8"/><path d="M461.3,396.9 C462.3,397.6 465.3,399.9 467.3,401.4 C469.4,402.9 471.2,404.7 473.5,405.8 C475.7,406.9 479.5,407.6 480.7,408.0"/><path d="M378.2,402.9 C377.6,403.5 375.6,405.2 374.6,406.6 C373.6,407.9 372.6,409.5 372.2,411.1 C371.8,412.8 372.2,415.4 372.2,416.3"/><path d="M488.4,415.3 C486.2,414.9 479.5,412.8 475.0,412.8 C470.5,412.8 466.0,414.3 461.5,415.3 C457.1,416.2 450.5,417.9 448.2,418.4"/><path d="M355.5,528.6 C353.9,529.6 348.9,532.2 345.9,534.4 C342.8,536.6 340.4,539.8 337.3,541.7 C334.1,543.7 328.5,545.2 326.8,545.9"/><path d="M416.4,480.5 C417.6,480.5 421.2,480.3 423.6,480.5 C426.0,480.8 428.3,481.5 430.7,482.1 C433.0,482.7 436.5,483.7 437.6,484.1"/><path d="M363.2,519.3 C364.5,520.0 368.4,522.5 371.2,523.6 C374.0,524.7 377.3,524.7 380.0,526.0 C382.7,527.3 386.2,530.3 387.5,531.2"/><path d="M393.5,406.8 C393.0,408.1 391.0,411.8 390.5,414.5 C390.0,417.1 391.2,420.1 390.6,422.6 C390.0,425.2 387.5,428.7 386.9,429.9"/><path d="M349.1,523.2 C348.5,524.2 346.6,527.3 345.6,529.4 C344.7,531.6 344.0,533.9 343.6,536.2 C343.2,538.6 343.3,542.2 343.2,543.3"/><path d="M372.3,438.3 C370.0,437.3 363.2,433.4 358.4,432.5 C353.6,431.5 348.4,432.0 343.5,432.6 C338.5,433.1 331.3,435.3 328.8,435.8"/><path d="M483.4,389.2 C482.2,389.7 478.1,390.6 476.0,392.1 C473.9,393.6 472.9,396.5 470.9,398.2 C468.9,399.9 465.3,401.7 464.1,402.4"/><path d="M394.5,402.4 C396.8,402.5 403.5,403.4 407.9,402.9 C412.2,402.3 416.4,400.5 420.7,399.2 C424.9,397.8 431.1,395.4 433.2,394.6"/><path d="M485.9,414.9 C486.0,416.0 486.6,419.2 486.5,421.3 C486.4,423.4 486.0,425.5 485.4,427.6 C484.8,429.6 483.4,432.5 483.0,433.5"/><path d="M371.5,392.7 C373.3,393.2 378.5,395.1 382.2,395.6 C385.8,396.2 389.6,396.5 393.2,396.1 C396.9,395.8 402.2,393.8 404.0,393.4"/><path d="M438.0,493.2 C436.9,494.6 432.7,498.5 431.2,501.7 C429.6,504.8 429.8,508.8 428.5,512.2 C427.3,515.5 424.4,520.2 423.5,521.8"/><path d="M405.3,495.5 C407.5,495.5 414.2,494.8 418.4,495.6 C422.6,496.4 427.0,497.9 430.7,500.1 C434.4,502.3 439.0,507.3 440.6,508.7"/><path d="M418.9,382.5 C417.3,382.3 412.4,381.5 409.2,381.6 C405.9,381.7 402.6,382.0 399.5,383.0 C396.4,383.9 392.2,386.6 390.7,387.3"/><path d="M473.1,438.7 C474.3,439.6 477.6,442.7 480.2,443.7 C482.8,444.7 486.0,444.3 488.9,444.7 C491.7,445.1 496.1,445.7 497.5,445.9"/><path d="M411.3,462.5 C412.9,463.8 418.1,467.2 420.6,470.3 C423.2,473.4 424.3,477.6 426.6,480.9 C428.8,484.2 433.0,488.7 434.3,490.3"/><path d="M453.8,441.0 C452.9,441.4 450.4,442.9 448.6,443.3 C446.8,443.6 444.9,443.1 443.0,443.0 C441.2,442.9 438.4,442.8 437.4,442.8"/><path d="M422.1,464.9 C421.7,465.6 420.0,467.7 419.3,469.2 C418.5,470.8 417.9,472.5 417.7,474.2 C417.4,475.9 417.7,478.5 417.7,479.4"/><path d="M356.4,420.1 C355.9,420.8 354.6,423.1 353.5,424.5 C352.3,425.8 350.7,426.8 349.7,428.2 C348.7,429.6 347.6,432.1 347.2,432.9"/><path d="M342.8,475.9 C342.1,477.4 339.3,481.9 338.4,485.1 C337.6,488.4 338.7,492.1 338.0,495.4 C337.2,498.6 334.5,503.2 333.9,504.7"/><path d="M454.7,387.2 C456.3,387.9 460.8,390.1 463.9,391.0 C467.1,391.9 470.5,392.7 473.7,392.6 C477.0,392.6 481.8,390.9 483.4,390.6"/><path d="M404.9,401.9 C405.0,404.2 405.7,411.0 405.8,415.5 C405.9,420.0 406.3,424.6 405.7,429.1 C405.1,433.6 402.8,440.1 402.2,442.3"/><path d="M366.3,512.2 C364.9,512.6 360.6,514.3 357.7,514.6 C354.8,514.9 351.8,514.2 348.9,514.0 C345.9,513.8 341.5,513.3 340.0,513.2"/><path d="M403.3,530.6 C402.5,531.8 399.9,535.1 398.5,537.5 C397.1,539.9 396.0,542.5 394.9,545.0 C393.8,547.6 392.3,551.5 391.8,552.8"/><path d="M497.0,508.7 C494.8,508.5 488.1,507.1 483.9,507.7 C479.7,508.4 475.7,511.0 471.6,512.5 C467.5,514.1 461.4,516.3 459.3,517.1"/><path d="M493.3,529.5 C494.2,530.7 496.8,534.5 498.9,536.8 C500.9,539.1 503.3,541.1 505.4,543.3 C507.6,545.5 510.7,548.9 511.8,550.0"/><path d="M351.1,449.3 C351.4,450.1 352.7,452.5 352.8,454.2 C353.0,455.9 352.6,457.7 352.2,459.4 C351.8,461.0 350.5,463.4 350.2,464.2"/><path d="M489.9,481.3 C487.7,481.8 480.4,482.3 476.4,484.3 C472.3,486.2 469.4,490.3 465.6,493.0 C461.8,495.6 455.7,498.9 453.7,500.1"/><path d="M382.5,488.6 C383.0,490.2 384.7,495.2 385.5,498.5 C386.3,501.9 386.2,505.5 387.2,508.8 C388.2,512.1 390.7,516.8 391.4,518.4"/><path d="M423.2,449.4 C422.0,449.8 418.4,451.4 415.8,452.1 C413.3,452.8 410.5,452.7 408.1,453.7 C405.7,454.6 402.6,457.3 401.5,458.0"/><path d="M435.1,533.0 C435.1,534.3 435.1,538.1 435.0,540.7 C434.9,543.2 434.3,545.8 434.7,548.3 C435.0,550.8 436.6,554.4 437.0,555.7"/><path d="M359.8,401.0 C361.0,402.0 364.2,405.3 366.7,406.9 C369.2,408.6 372.0,410.2 374.8,410.9 C377.7,411.6 382.4,411.2 383.9,411.3"/><path d="M427.4,514.4 C426.6,515.9 423.5,520.5 422.3,523.8 C421.1,527.1 421.3,530.9 420.2,534.3 C419.2,537.7 416.7,542.5 416.0,544.1"/><path d="M413.7,467.7 C413.5,469.3 412.3,474.0 412.2,477.2 C412.0,480.4 412.3,483.8 413.0,486.9 C413.8,490.0 416.0,494.4 416.6,495.9"/><path d="M422.0,441.3 C421.9,442.2 421.9,444.8 421.4,446.4 C420.9,448.0 419.6,449.3 419.0,450.9 C418.4,452.5 418.0,455.1 417.9,455.9"/><path d="M429.1,458.6 C431.0,460.2 437.2,464.5 440.5,468.1 C443.9,471.7 445.6,476.8 449.0,480.3 C452.5,483.8 459.1,487.5 461.1,489.0"/><path d="M350.7,519.4 C351.0,520.3 351.7,523.0 352.4,524.8 C353.0,526.5 353.9,528.2 354.3,530.0 C354.8,531.8 354.9,534.7 355.0,535.6"/><path d="M357.5,416.0 C355.6,417.0 350.0,419.5 346.5,421.7 C343.0,423.8 339.6,426.3 336.5,429.0 C333.4,431.7 329.2,436.3 327.7,437.8"/><path d="M448.1,478.6 C446.1,479.6 440.3,483.0 436.2,484.4 C432.0,485.8 427.6,486.8 423.3,487.2 C418.9,487.6 412.3,486.9 410.1,486.8"/><path d="M461.6,456.0 C459.6,456.6 453.4,457.4 449.9,459.2 C446.3,460.9 443.7,464.6 440.1,466.3 C436.6,468.0 430.4,468.9 428.5,469.5"/><path d="M340.7,502.5 C339.6,503.7 336.3,507.5 334.0,509.9 C331.7,512.3 329.1,514.4 326.8,516.8 C324.5,519.3 321.3,523.1 320.2,524.3"/><path d="M465.4,519.6 C465.0,521.0 463.7,525.2 462.9,528.1 C462.1,530.9 461.7,533.9 460.7,536.6 C459.7,539.3 457.4,543.1 456.7,544.4"/><path d="M386.9,442.5 C386.9,444.0 387.3,448.5 386.9,451.4 C386.5,454.2 385.7,457.2 384.4,459.8 C383.2,462.5 380.1,465.8 379.2,467.0"/><path d="M419.9,451.0 C421.2,451.3 425.2,452.1 427.8,452.8 C430.4,453.5 432.9,454.3 435.5,455.2 C438.0,456.1 441.7,457.7 442.9,458.2"/><path d="M354.1,527.2 C354.5,529.4 357.0,536.0 356.9,540.3 C356.9,544.7 354.1,549.0 353.7,553.4 C353.3,557.8 354.3,564.6 354.4,566.8"/><path d="M408.2,525.7 C409.1,525.8 411.9,526.1 413.7,526.2 C415.5,526.4 417.4,526.2 419.1,526.8 C420.8,527.3 423.1,529.0 423.9,529.5"/><path d="M651.7,253.8 C650.0,253.8 644.9,254.1 641.5,253.7 C638.2,253.4 634.9,252.2 631.5,251.7 C628.2,251.3 623.1,251.0 621.4,250.9"/><path d="M599.7,259.5 C600.4,261.8 602.5,268.7 603.9,273.3 C605.2,278.0 605.6,283.1 607.7,287.3 C609.8,291.5 615.1,296.8 616.6,298.7"/><path d="M601.8,240.1 C600.8,241.6 598.5,246.7 596.0,249.1 C593.5,251.5 589.8,252.7 586.7,254.6 C583.7,256.4 579.1,259.2 577.6,260.2"/><path d="M610.0,262.5 C608.6,262.4 604.3,262.8 601.6,262.3 C598.9,261.8 596.4,260.0 593.6,259.5 C590.9,259.1 586.6,259.5 585.2,259.5"/><path d="M594.8,297.8 C593.8,299.2 591.2,303.8 588.8,306.0 C586.3,308.2 583.1,309.8 580.1,311.2 C577.0,312.7 572.2,314.1 570.6,314.7"/><path d="M657.6,299.0 C656.4,300.0 652.6,302.7 650.5,304.9 C648.4,307.1 646.7,309.8 644.8,312.2 C642.9,314.6 640.0,318.1 639.0,319.3"/><path d="M618.1,218.8 C619.6,220.0 623.8,223.8 626.9,225.9 C630.0,228.0 634.1,229.0 636.7,231.6 C639.3,234.1 641.6,239.6 642.6,241.2"/><path d="M634.6,204.2 C635.5,206.1 638.8,211.7 640.4,215.7 C642.0,219.7 641.9,224.5 644.0,228.1 C646.1,231.7 651.5,235.7 653.0,237.3"/><path d="M593.1,284.2 C593.1,286.2 593.3,292.0 593.4,295.9 C593.6,299.8 593.8,303.7 593.8,307.6 C593.9,311.5 593.7,317.3 593.6,319.2"/><path d="M588.3,264.7 C587.8,267.1 586.3,274.5 585.7,279.4 C585.0,284.4 583.9,289.5 584.4,294.3 C584.9,299.2 588.0,306.3 588.7,308.7"/><path d="M574.6,275.9 C575.6,276.0 578.6,275.9 580.6,276.0 C582.6,276.0 584.7,275.8 586.6,276.2 C588.5,276.5 591.3,277.9 592.2,278.2"/><path d="M631.6,280.7 C632.4,281.0 634.6,282.3 636.2,283.0 C637.8,283.6 639.6,283.8 641.1,284.4 C642.7,285.1 644.9,286.5 645.6,286.9"/><path d="M599.2,216.9 C599.6,217.9 600.6,220.7 601.2,222.6 C601.7,224.5 602.0,226.5 602.6,228.4 C603.3,230.3 604.6,233.0 605.0,234.0"/><path d="M611.2,238.6 C613.5,239.1 620.7,240.0 624.7,242.1 C628.7,244.2 631.6,248.2 635.2,251.2 C638.8,254.1 644.4,258.2 646.2,259.6"/><path d="M632.5,224.9 C634.6,226.1 640.8,229.9 645.1,231.7 C649.5,233.6 654.7,233.8 658.8,236.0 C662.9,238.3 667.8,243.8 669.6,245.3"/><path d="M657.0,230.4 C656.2,232.7 654.9,240.2 652.4,244.2 C650.0,248.3 645.2,250.9 642.3,254.7 C639.4,258.6 636.3,265.4 635.2,267.5"/><path d="M603.7,271.8 C604.4,273.0 606.3,276.6 607.6,278.9 C608.9,281.3 610.6,283.5 611.6,286.0 C612.6,288.5 613.1,292.6 613.4,293.9"/><path d="M585.4,217.3 C585.4,218.5 585.1,221.9 585.2,224.2 C585.4,226.5 586.1,228.7 586.5,231.0 C586.8,233.2 587.2,236.6 587.3,237.8"/><path d="M569.4,253.4 C570.4,254.4 573.3,258.1 575.8,259.7 C578.3,261.3 581.6,261.6 584.1,263.2 C586.6,264.8 589.7,268.2 590.9,269.2"/><path d="M598.9,224.5 C600.1,224.9 603.8,226.8 606.3,227.1 C608.8,227.4 611.5,226.2 614.1,226.1 C616.7,226.0 620.6,226.3 621.9,226.4"/><path d="M597.7,215.6 C597.3,216.5 596.4,219.4 595.3,221.0 C594.2,222.6 592.3,223.7 591.2,225.3 C590.2,227.0 589.4,229.9 589.0,230.8"/><path d="M610.4,283.6 C609.6,284.4 607.4,286.9 605.6,288.2 C603.9,289.5 601.8,290.3 600.0,291.5 C598.2,292.8 595.6,294.9 594.8,295.6"/><path d="M674.8,220.8 C673.3,221.5 668.7,223.5 665.7,225.0 C662.6,226.4 659.3,227.5 656.7,229.6 C654.1,231.6 651.1,235.8 650.0,237.1"/><path d="M643.3,226.1 C641.7,226.9 636.5,228.8 633.5,230.8 C630.5,232.7 628.1,235.6 625.2,237.8 C622.3,240.0 617.7,242.9 616.2,243.9"/><path d="M581.6,287.2 C583.1,287.9 587.6,290.4 590.8,291.4 C594.0,292.5 597.6,292.3 600.7,293.4 C603.9,294.5 608.2,297.3 609.7,298.0"/><path d="M603.1,265.8 C603.0,267.1 602.0,271.2 602.3,273.8 C602.5,276.4 603.5,279.2 604.8,281.5 C606.0,283.9 608.8,287.0 609.6,288.1"/><path d="M661.4,232.1 C660.8,233.0 659.1,235.4 658.1,237.2 C657.1,239.0 656.4,240.9 655.5,242.7 C654.7,244.6 653.4,247.3 652.9,248.3"/><path d="M592.1,206.6 C593.1,207.3 596.3,209.1 598.1,210.7 C599.9,212.3 601.2,214.5 603.1,216.0 C604.9,217.6 608.0,219.5 609.0,220.2"/><path d="M605.4,290.9 C603.3,291.7 596.3,293.3 592.4,295.6 C588.5,297.9 585.1,301.3 582.0,304.6 C578.8,308.0 575.1,313.9 573.8,315.8"/><path d="M558.7,268.0 C558.1,269.3 556.5,273.2 555.2,275.7 C553.8,278.2 552.3,280.6 550.5,282.8 C548.7,285.0 545.5,287.8 544.5,288.8"/><path d="M619.9,359.3 C621.2,360.6 624.8,365.2 627.8,367.3 C630.9,369.3 635.2,369.6 638.2,371.7 C641.2,373.8 644.7,378.6 646.0,379.9"/><path d="M658.7,349.9 C659.6,349.7 662.3,349.4 664.0,348.8 C665.7,348.1 667.2,347.1 668.7,346.1 C670.2,345.1 672.1,343.2 672.8,342.6"/><path d="M630.5,302.7 C632.0,303.9 636.9,306.9 639.5,309.7 C642.0,312.4 643.7,316.0 645.7,319.2 C647.6,322.5 650.3,327.6 651.2,329.2"/><path d="M657.3,317.8 C658.0,319.7 659.3,325.8 661.5,328.9 C663.6,332.1 667.9,333.7 670.4,336.7 C672.9,339.7 675.3,345.3 676.3,347.0"/><path d="M662.1,320.0 C664.3,320.6 670.9,323.2 675.3,323.3 C679.7,323.4 684.3,322.0 688.5,320.5 C692.7,319.0 698.6,315.4 700.6,314.4"/><path d="M608.9,355.4 C610.3,357.3 614.1,363.6 617.6,366.6 C621.1,369.5 626.1,370.7 630.0,373.3 C633.9,375.9 639.1,380.8 640.9,382.3"/><path d="M631.5,352.3 C630.7,353.4 628.8,357.0 626.9,358.7 C625.0,360.4 622.3,361.1 620.1,362.4 C617.9,363.8 614.6,366.0 613.5,366.7"/><path d="M674.4,348.4 C672.7,349.8 667.5,354.0 664.2,356.9 C660.8,359.8 656.8,362.3 654.4,365.9 C651.9,369.4 650.2,376.2 649.4,378.2"/><path d="M655.9,330.0 C656.6,332.2 659.6,338.9 660.6,343.5 C661.5,348.1 660.2,353.3 661.6,357.7 C663.0,362.1 667.6,368.0 668.8,370.0"/><path d="M656.2,356.4 C656.7,358.1 658.4,363.1 659.1,366.5 C659.9,369.9 660.2,373.4 660.6,376.8 C661.0,380.3 661.5,385.5 661.7,387.2"/><path d="M620.0,304.2 C621.0,305.3 623.9,308.8 626.2,310.9 C628.4,312.9 630.8,315.0 633.5,316.3 C636.2,317.6 640.8,318.3 642.3,318.7"/><path d="M656.6,346.9 C657.5,347.8 660.1,350.4 661.9,352.0 C663.8,353.7 666.1,354.9 667.6,356.9 C669.0,358.8 670.1,362.5 670.6,363.6"/><path d="M628.1,321.0 C627.1,321.3 624.0,322.1 622.0,322.8 C620.0,323.6 618.3,325.1 616.2,325.7 C614.2,326.4 611.0,326.5 609.9,326.7"/><path d="M643.9,353.2 C645.4,354.4 650.1,357.9 653.3,360.1 C656.5,362.3 660.1,364.1 663.0,366.6 C665.9,369.2 669.3,374.0 670.6,375.4"/><path d="M666.5,308.0 C667.7,308.8 670.9,311.9 673.5,313.0 C676.1,314.1 679.1,314.3 682.0,314.5 C684.8,314.7 689.2,314.2 690.6,314.1"/><path d="M615.8,349.1 C616.1,350.1 617.1,353.0 617.8,354.9 C618.5,356.8 619.2,358.8 620.0,360.6 C620.9,362.5 622.5,365.1 623.0,366.0"/><path d="M613.4,305.0 C615.8,305.7 622.9,308.8 627.8,309.2 C632.6,309.6 637.6,307.4 642.6,307.3 C647.5,307.1 655.0,308.3 657.4,308.5"/><path d="M678.4,339.5 C680.0,339.9 684.7,341.8 687.9,342.2 C691.2,342.5 694.5,341.9 697.8,341.8 C701.1,341.8 706.1,341.9 707.7,341.9"/><path d="M600.7,364.4 C599.2,365.6 595.0,369.3 591.9,371.5 C588.8,373.6 585.1,374.9 582.2,377.2 C579.2,379.4 575.5,383.8 574.1,385.1"/><path d="M619.7,309.7 C621.6,310.6 627.3,313.6 631.3,315.0 C635.3,316.3 639.5,317.5 643.7,317.8 C647.9,318.1 654.3,316.8 656.4,316.6"/><path d="M482.0,533.4 C480.9,533.4 477.5,533.5 475.3,533.1 C473.2,532.6 471.1,531.6 469.1,530.6 C467.2,529.5 464.6,527.3 463.7,526.6"/><path d="M449.3,483.8 C448.2,484.7 445.1,487.3 442.9,489.0 C440.8,490.7 438.4,492.1 436.3,493.8 C434.2,495.6 431.3,498.5 430.3,499.5"/><path d="M502.3,488.0 C504.0,488.4 509.4,489.2 512.6,490.7 C515.8,492.1 518.8,494.3 521.6,496.5 C524.3,498.7 527.9,502.8 529.1,504.0"/><path d="M510.0,540.9 C510.6,542.4 512.1,547.3 513.6,550.2 C515.0,553.2 517.2,555.8 518.9,558.7 C520.5,561.6 522.7,566.1 523.5,567.6"/><path d="M423.4,521.6 C424.3,522.9 426.5,527.3 428.6,529.5 C430.8,531.6 433.7,533.5 436.6,534.6 C439.5,535.6 444.4,535.5 445.9,535.6"/><path d="M461.1,484.3 C460.4,484.7 458.4,486.3 456.8,486.9 C455.3,487.4 453.5,487.7 451.9,487.7 C450.2,487.8 447.7,487.3 446.9,487.2"/><path d="M459.7,491.2 C459.0,492.8 456.6,497.3 455.5,500.5 C454.3,503.6 453.6,507.0 452.8,510.3 C452.0,513.5 451.0,518.5 450.7,520.2"/><path d="M484.9,532.0 C484.0,532.5 481.0,534.0 479.1,535.2 C477.2,536.3 475.4,537.6 473.5,538.7 C471.6,539.8 468.6,541.4 467.7,541.9"/><path d="M451.6,484.7 C452.9,485.0 457.2,485.3 459.6,486.5 C462.0,487.7 464.2,489.7 465.9,491.8 C467.5,493.9 468.9,498.0 469.6,499.2"/><path d="M505.9,543.1 C504.0,542.7 498.5,540.8 494.9,540.9 C491.2,541.1 487.7,543.1 484.0,543.7 C480.3,544.3 474.7,544.4 472.9,544.5"/><path d="M479.0,492.3 C478.5,494.6 477.3,501.9 476.0,506.5 C474.7,511.1 472.2,515.5 471.0,520.1 C469.8,524.8 469.2,532.1 468.8,534.5"/><path d="M451.1,536.4 C452.2,536.7 455.5,537.6 457.7,538.2 C459.9,538.7 462.2,539.6 464.4,539.7 C466.7,539.7 470.1,538.5 471.2,538.3"/><path d="M484.4,497.9 C483.9,499.4 482.7,503.8 481.8,506.7 C480.8,509.6 479.5,512.4 478.7,515.3 C477.8,518.2 476.8,522.7 476.4,524.2"/><path d="M427.0,483.5 C425.7,484.7 422.1,488.8 419.2,490.6 C416.3,492.4 412.5,492.7 409.4,494.4 C406.4,496.0 402.3,499.4 400.9,500.4"/><path d="M425.0,509.8 C426.1,511.0 429.1,515.1 431.5,517.2 C434.0,519.3 437.2,520.7 439.9,522.5 C442.6,524.4 446.5,527.5 447.8,528.5"/><path d="M426.9,508.5 C426.7,509.4 425.7,512.3 425.8,514.2 C425.8,516.1 426.7,518.0 427.2,519.8 C427.7,521.7 428.6,524.4 428.9,525.4"/><path d="M505.7,511.3 C505.1,513.3 504.2,519.8 502.1,523.3 C500.0,526.8 496.5,529.7 493.3,532.3 C490.0,534.9 484.4,537.9 482.7,539.1"/><path d="M425.7,532.3 C425.6,533.4 425.3,536.7 424.9,538.9 C424.6,541.1 424.4,543.4 423.7,545.5 C423.0,547.6 421.2,550.5 420.7,551.5"/><path d="M429.4,528.2 C430.6,528.3 434.4,529.1 436.7,528.6 C439.1,528.2 441.1,526.4 443.4,525.5 C445.7,524.6 449.2,523.5 450.4,523.1"/><path d="M437.4,492.5 C436.0,493.3 432.1,495.8 429.4,497.2 C426.6,498.6 423.9,500.2 420.9,500.9 C417.9,501.5 413.2,501.2 411.6,501.2"/><path d="M474.1,538.8 C473.0,539.0 469.7,539.4 467.5,539.9 C465.4,540.4 463.3,541.6 461.2,542.0 C459.0,542.4 455.6,542.3 454.5,542.3"/><path d="M486.5,531.9 C487.6,532.8 491.7,534.9 493.5,537.0 C495.4,539.1 496.6,542.0 497.7,544.7 C498.8,547.4 499.7,551.7 500.1,553.1"/><path d="M419.6,515.3 C421.0,516.3 425.0,519.9 428.1,521.3 C431.3,522.8 435.3,522.3 438.3,523.7 C441.4,525.2 445.3,529.0 446.7,530.1"/><path d="M485.9,489.1 C486.8,490.4 489.7,494.1 491.4,496.8 C493.2,499.4 494.3,502.6 496.3,504.9 C498.4,507.2 502.7,509.6 503.9,510.5"/><path d="M417.2,478.3 C416.2,478.9 413.2,480.6 411.4,482.0 C409.7,483.4 408.3,485.4 406.6,486.8 C404.8,488.3 401.8,490.0 400.9,490.7"/></g>
<polygon points="440.0,278.0 453.0,277.0 454.0,292.0 447.0,306.0 440.0,304.0" fill="#e6dbb8"/>
<polygon points="814.0,252.0 843.0,253.0 842.0,268.0 815.0,268.0" fill="#e8dcb8"/>
<polygon points="815.0,271.0 829.0,271.0 828.0,283.0 815.0,282.0" fill="#e8dcb8"/>
<polygon points="802.0,301.0 818.0,302.0 817.0,317.0 802.0,316.0" fill="#e8dcb8"/>
<polygon points="706.0,199.0 718.0,200.0 718.0,213.0 707.0,212.0" fill="#e8dcb8"/>
<polygon points="731.0,201.0 743.0,198.0 743.0,212.0 731.0,213.0" fill="#e8dcb8"/>
<polygon points="710.0,283.0 722.0,272.0 760.0,274.0 764.0,298.0 756.0,305.0 715.0,306.0" fill="#f0cfcf"/>
<polygon points="704.0,470.0 760.0,468.0 800.0,480.0 802.0,520.0 790.0,537.0 720.0,537.0 705.0,510.0" fill="#e6dcbe"/>
<polygon points="832.0,478.0 846.0,470.0 856.0,486.0 856.0,500.0 838.0,496.0" fill="#eee9e0"/>
<polygon points="420.0,541.0 426.0,540.0 426.0,552.0 419.0,552.0" fill="#e6dbb8"/>
<rect x="712" y="485" width="9" height="7" fill="#d8d6d2"/>
<rect x="725" y="495" width="10" height="8" fill="#d8d6d2"/>
<rect x="740" y="480" width="8" height="9" fill="#d8d6d2"/>
<rect x="760" y="500" width="9" height="8" fill="#d8d6d2"/>
<rect x="775" y="515" width="10" height="7" fill="#d8d6d2"/>
<rect x="730" y="515" width="8" height="8" fill="#d8d6d2"/>
<rect x="790" y="500" width="7" height="9" fill="#d8d6d2"/>
<rect x="716" y="500" width="7" height="7" fill="#d8d6d2"/>
<polygon points="458.2,409.4 468.3,400.6 475.9,390.5 488.5,390.5 496.1,400.6 503.7,410.7 501.1,418.3 486.0,417.0 473.3,418.3 463.2,413.2" fill="#c6dfa6"/>
<polygon points="611.2,352.0 619.0,351.5 624.2,359.7 642.3,361.0 650.0,375.0 656.6,391.0 645.0,398.7 619.0,401.3 626.8,391.0 630.6,378.0 624.2,368.8 612.5,367.5 610.5,358.4" fill="#c6dfa6"/>
<polygon points="630.0,332.0 645.0,331.0 645.0,347.0 630.0,348.0" fill="#c6dfa6"/>
<polygon points="662.0,286.0 680.0,283.0 680.0,311.0 664.0,312.0" fill="#c6dfa6"/>
<polygon points="672.0,224.0 682.0,222.0 682.0,241.0 673.0,241.0" fill="#c6dfa6"/>
<polygon points="682.0,213.0 690.0,213.0 690.0,232.0 683.0,232.0" fill="#c6dfa6"/>
<polygon points="798.0,199.0 812.0,199.0 812.0,213.0 798.0,213.0" fill="#c6dfa6"/>
<polygon points="843.0,258.0 857.0,258.0 857.0,268.0 843.0,268.0" fill="#c6dfa6"/>
<polygon points="788.0,325.0 796.0,325.0 796.0,337.0 788.0,337.0" fill="#c6dfa6"/>
<polygon points="692.0,413.0 702.0,408.0 706.0,422.0 694.0,428.0" fill="#c6dfa6"/>
<polygon points="650.0,487.0 660.0,487.0 676.0,541.0 668.0,545.0 660.0,541.0" fill="#c6dfa6"/>
<polygon points="546.0,262.0 551.0,256.0 555.0,272.0 559.0,291.0 569.0,311.0 582.0,333.0 576.0,333.0 563.0,314.0 553.0,294.0 549.0,275.0" fill="#c6dfa6"/>
<polygon points="704.0,511.0 712.0,509.0 713.0,518.0 705.0,518.0" fill="#c6dfa6"/>
<polygon points="832.0,452.0 846.0,446.0 852.0,452.0 838.0,462.0" fill="#c6dfa6"/>
<polygon points="526.0,191.0 529.0,211.0 528.7,231.0 531.0,251.0 537.0,271.0 541.0,291.0 548.0,311.0 559.0,331.0 571.0,351.0 577.0,372.0 585.0,390.0 592.0,400.6 602.3,405.0 600.0,390.0 594.0,372.0 587.0,351.0 577.0,331.0 563.0,311.0 553.0,291.0 550.0,271.0 548.0,251.0 546.0,231.0 543.0,211.0 540.0,191.0" fill="#98bdf6"/>
<polygon points="537.0,421.0 541.6,410.7 551.7,403.0 566.9,400.6 582.0,399.3 592.0,400.6 602.3,405.0 602.3,405.0 606.0,420.0 610.0,433.0 620.0,446.0 632.0,458.0 646.0,470.0 652.0,487.0 658.0,507.0 666.0,527.0 672.0,541.0 675.0,553.0 662.0,553.0 660.0,541.0 650.0,519.0 642.0,499.0 630.0,487.0 618.0,478.0 602.0,469.0 592.0,456.0 587.0,438.0 577.0,426.0 564.0,418.0 552.0,416.0 537.0,421.0" fill="#98bdf6"/>
<path d="M335.0,308.4 C337.2,308.6 343.8,309.1 348.0,309.5 C352.2,309.9 356.4,310.9 360.4,310.6 C364.4,310.3 369.0,308.1 372.0,307.5 C375.0,306.9 376.0,306.5 378.3,307.2 C380.6,307.9 383.6,309.6 385.8,311.5 C388.1,313.4 390.7,315.9 391.8,318.9 C392.9,321.9 392.0,326.3 392.5,329.3 C393.0,332.3 394.2,334.6 394.8,336.8 C395.4,339.1 395.3,340.1 396.3,342.8 C397.3,345.5 398.1,350.2 400.8,353.2 C403.5,356.2 408.7,358.0 412.7,360.7 C416.7,363.4 420.2,367.2 424.7,369.4 C429.2,371.5 434.6,373.1 439.6,373.6 C444.6,374.1 450.4,372.0 454.6,372.2 C458.8,372.4 461.4,373.5 465.0,375.0 C468.6,376.5 472.2,379.2 476.0,381.0 C479.8,382.8 483.7,383.8 488.0,386.0 C492.3,388.2 497.3,391.0 502.0,394.0 C506.7,397.0 511.3,401.0 516.0,404.0 C520.7,407.0 526.0,409.7 530.0,412.0 C534.0,414.3 538.3,417.0 540.0,418.0 L540,424 540.0,424.0 C538.0,423.2 532.3,421.2 528.0,419.0 C523.7,416.8 518.7,413.8 514.0,411.0 C509.3,408.2 504.7,404.8 500.0,402.0 C495.3,399.2 490.3,396.3 486.0,394.0 C481.7,391.7 477.5,390.1 474.0,388.0 C470.5,385.9 468.2,383.3 465.0,381.6 C461.8,379.9 458.8,378.1 454.6,377.6 C450.4,377.1 444.1,379.2 439.6,378.7 C435.1,378.2 432.2,376.6 427.7,374.6 C423.2,372.6 417.4,369.5 412.7,366.7 C408.0,363.9 403.0,360.7 399.3,358.0 C395.6,355.3 392.8,353.3 390.3,350.3 C387.8,347.3 386.1,343.3 384.3,339.8 C382.6,336.3 380.6,333.2 379.8,329.3 C379.1,325.4 381.0,319.2 379.8,316.5 C378.6,313.8 376.1,313.0 372.4,313.0 C368.7,313.0 361.8,315.9 357.4,316.5 C353.0,317.1 349.7,316.5 346.0,316.5 C342.3,316.5 336.8,316.3 335.0,316.3Z" fill="#98bdf6"/>
<path d="M385,321 Q388,330 389,338 Q392,345 394,349 Q392,338 390,326Z" fill="#e8e4db"/>
<path d="M396.0,356.0 C396.7,357.3 398.7,361.3 400.0,364.0 C401.3,366.7 403.3,370.7 404.0,372.0" fill="none" stroke="#98bdf6" stroke-width="2"/>
<path d="M335.0,366.7 C337.2,365.8 343.8,362.8 348.0,361.0 C352.2,359.2 356.7,356.0 360.4,356.2 C364.1,356.4 367.0,360.2 370.0,362.0 C373.0,363.8 375.3,366.9 378.3,366.7 C381.3,366.5 385.0,362.6 388.0,361.0 C391.0,359.4 394.9,357.7 396.3,357.0" fill="none" stroke="#9dbff2" stroke-width="0.9"/>
<path d="M373.9,369.7 C374.1,371.4 374.5,376.6 375.0,380.0 C375.5,383.4 376.4,386.7 377.0,390.0 C377.6,393.3 378.1,398.0 378.3,399.6" fill="none" stroke="#9dbff2" stroke-width="0.9"/>
<path d="M405.5,325.0 C405.8,327.5 406.4,334.7 407.0,340.0 C407.6,345.3 408.7,354.2 409.0,357.0" fill="none" stroke="#9dbff2" stroke-width="0.9"/>
<polygon points="379.8,352 386,348.8 390.3,354 387,357.7 382,356" fill="#98bdf6"/>
<polygon points="430.3,380 438,383 441.7,388 437,395 433,400.6 432,390" fill="#98bdf6"/>
<polygon points="518.8,354 526.4,353.8 524,361.4" fill="#98bdf6"/>
<line x1="556.0" y1="407.0" x2="575.0" y2="415.0" stroke="#d6e4f8" stroke-width="1.5" stroke-linecap="round"/>
<line x1="566.0" y1="410.0" x2="588.0" y2="420.0" stroke="#d6e4f8" stroke-width="1.5" stroke-linecap="round"/>
<line x1="575.0" y1="416.0" x2="598.0" y2="432.0" stroke="#d6e4f8" stroke-width="1.5" stroke-linecap="round"/>
<line x1="583.0" y1="428.0" x2="600.0" y2="446.0" stroke="#d6e4f8" stroke-width="1.5" stroke-linecap="round"/>
<line x1="592.0" y1="440.0" x2="606.0" y2="458.0" stroke="#d6e4f8" stroke-width="1.5" stroke-linecap="round"/>
<line x1="598.0" y1="452.0" x2="618.0" y2="466.0" stroke="#d6e4f8" stroke-width="1.5" stroke-linecap="round"/>
<line x1="605.0" y1="446.0" x2="620.0" y2="460.0" stroke="#d6e4f8" stroke-width="1.5" stroke-linecap="round"/>
<line x1="612.0" y1="458.0" x2="632.0" y2="470.0" stroke="#d6e4f8" stroke-width="1.5" stroke-linecap="round"/>
<line x1="620.0" y1="466.0" x2="640.0" y2="478.0" stroke="#d6e4f8" stroke-width="1.5" stroke-linecap="round"/>
<line x1="570.0" y1="404.0" x2="590.0" y2="410.0" stroke="#d6e4f8" stroke-width="1.5" stroke-linecap="round"/>
<line x1="590.0" y1="418.0" x2="605.0" y2="430.0" stroke="#d6e4f8" stroke-width="1.5" stroke-linecap="round"/>
<line x1="600.0" y1="410.0" x2="608.0" y2="425.0" stroke="#d6e4f8" stroke-width="1.5" stroke-linecap="round"/>
<line x1="596.2" y1="437.0" x2="606.2" y2="445.7" stroke="#d6e4f8" stroke-width="1.5" stroke-linecap="round"/>
<line x1="600.6" y1="441.3" x2="605.5" y2="445.8" stroke="#d6e4f8" stroke-width="1.5" stroke-linecap="round"/>
<line x1="610.4" y1="453.7" x2="615.1" y2="457.1" stroke="#d6e4f8" stroke-width="1.5" stroke-linecap="round"/>
<line x1="567.3" y1="417.4" x2="577.3" y2="422.4" stroke="#d6e4f8" stroke-width="1.5" stroke-linecap="round"/>
<line x1="638.6" y1="481.1" x2="646.1" y2="489.0" stroke="#d6e4f8" stroke-width="1.5" stroke-linecap="round"/>
<line x1="572.6" y1="406.0" x2="581.3" y2="410.5" stroke="#d6e4f8" stroke-width="1.5" stroke-linecap="round"/>
<line x1="575.2" y1="412.8" x2="579.2" y2="416.2" stroke="#d6e4f8" stroke-width="1.5" stroke-linecap="round"/>
<line x1="595.2" y1="441.8" x2="601.8" y2="448.9" stroke="#d6e4f8" stroke-width="1.5" stroke-linecap="round"/>
<line x1="600.0" y1="442.2" x2="607.5" y2="447.4" stroke="#d6e4f8" stroke-width="1.5" stroke-linecap="round"/>
<line x1="639.8" y1="482.8" x2="647.9" y2="492.3" stroke="#d6e4f8" stroke-width="1.5" stroke-linecap="round"/>
<line x1="585.2" y1="421.0" x2="592.0" y2="424.5" stroke="#d6e4f8" stroke-width="1.5" stroke-linecap="round"/>
<line x1="621.3" y1="455.1" x2="631.2" y2="463.0" stroke="#d6e4f8" stroke-width="1.5" stroke-linecap="round"/>
<line x1="636.6" y1="477.1" x2="640.9" y2="479.8" stroke="#d6e4f8" stroke-width="1.5" stroke-linecap="round"/>
<line x1="632.8" y1="466.3" x2="643.6" y2="475.0" stroke="#d6e4f8" stroke-width="1.5" stroke-linecap="round"/>
<line x1="565.8" y1="412.6" x2="575.7" y2="419.3" stroke="#d6e4f8" stroke-width="1.5" stroke-linecap="round"/>
<line x1="567.0" y1="407.6" x2="575.5" y2="418.3" stroke="#d6e4f8" stroke-width="1.5" stroke-linecap="round"/>
<line x1="569.4" y1="408.0" x2="574.7" y2="410.6" stroke="#d6e4f8" stroke-width="1.5" stroke-linecap="round"/>
<line x1="623.8" y1="452.8" x2="631.4" y2="459.3" stroke="#d6e4f8" stroke-width="1.5" stroke-linecap="round"/>
<line x1="575.3" y1="422.6" x2="579.4" y2="427.2" stroke="#d6e4f8" stroke-width="1.5" stroke-linecap="round"/>
<line x1="569.3" y1="411.3" x2="575.0" y2="415.2" stroke="#d6e4f8" stroke-width="1.5" stroke-linecap="round"/>
<line x1="637.7" y1="477.1" x2="642.0" y2="483.5" stroke="#d6e4f8" stroke-width="1.5" stroke-linecap="round"/>
<line x1="576.9" y1="417.2" x2="585.4" y2="426.6" stroke="#d6e4f8" stroke-width="1.5" stroke-linecap="round"/>
<path d="M551.0,223.0 C554.2,222.8 563.5,222.3 570.0,222.0 C576.5,221.7 585.0,220.5 590.0,221.0 C595.0,221.5 596.7,221.8 600.0,225.0 C603.3,228.2 607.0,236.0 610.0,240.0 C613.0,244.0 615.7,245.7 618.0,249.0 C620.3,252.3 622.0,257.3 624.0,260.0 C626.0,262.7 625.7,263.3 630.0,265.0 C634.3,266.7 644.0,267.5 650.0,270.0 C656.0,272.5 661.0,277.0 666.0,280.0 C671.0,283.0 677.7,286.7 680.0,288.0" fill="none" stroke="#a8c6f0" stroke-width="1"/>
<path d="M820.0,215.0 C817.5,215.7 810.3,217.5 805.0,219.0 C799.7,220.5 794.7,222.5 788.0,224.0 C781.3,225.5 772.8,226.7 765.0,228.0 C757.2,229.3 747.2,230.5 741.0,232.0 C734.8,233.5 731.3,235.0 728.0,237.0 C724.7,239.0 723.0,240.8 721.0,244.0 C719.0,247.2 717.5,252.0 716.0,256.0 C714.5,260.0 713.0,263.5 712.0,268.0 C711.0,272.5 710.3,280.5 710.0,283.0" fill="none" stroke="#a8c6f0" stroke-width="1"/>
<path d="M721.0,297.0 C723.7,298.3 733.0,302.5 737.0,305.0 C741.0,307.5 742.7,309.7 745.0,312.0 C747.3,314.3 750.0,317.8 751.0,319.0" fill="none" stroke="#a8c6f0" stroke-width="1"/>
<path d="M336.0,245.0 C337.5,244.5 341.0,242.3 345.0,242.0 C349.0,241.7 357.5,242.8 360.0,243.0" fill="none" stroke="#a8c6f0" stroke-width="1"/>
<path d="M472.0,256.0 C474.2,255.3 480.3,253.3 485.0,252.0 C489.7,250.7 495.8,249.2 500.0,248.0 C504.2,246.8 505.0,245.2 510.0,245.0 C515.0,244.8 526.7,246.7 530.0,247.0" fill="none" stroke="#a8c6f0" stroke-width="1"/>
<path d="M372.0,360.0 C374.2,361.7 381.2,367.5 385.0,370.0 C388.8,372.5 393.3,374.2 395.0,375.0" fill="none" stroke="#a8c6f0" stroke-width="1"/>
<path d="M335.0,385.0 C337.5,384.5 345.5,381.8 350.0,382.0 C354.5,382.2 360.0,385.3 362.0,386.0" fill="none" stroke="#a8c6f0" stroke-width="1"/>
<path d="M373.0,370.0 C373.3,373.3 374.2,383.3 375.0,390.0 C375.8,396.7 377.8,404.2 378.0,410.0 C378.2,415.8 376.3,422.5 376.0,425.0" fill="none" stroke="#a8c6f0" stroke-width="1"/>
<path d="M440.0,400.0 C439.7,403.3 438.7,413.3 438.0,420.0 C437.3,426.7 436.3,436.7 436.0,440.0" fill="none" stroke="#a8c6f0" stroke-width="1"/>
<circle cx="405" cy="288" r="2" fill="#98bdf6"/>
<circle cx="393" cy="296" r="2" fill="#98bdf6"/>
<circle cx="414" cy="311" r="2.5" fill="#98bdf6"/>
<circle cx="401" cy="336" r="2" fill="#98bdf6"/>
<circle cx="458" cy="291" r="1.5" fill="#98bdf6"/>
<circle cx="497" cy="279" r="2" fill="#98bdf6"/>
<circle cx="501" cy="288" r="1.5" fill="#98bdf6"/>
<circle cx="376" cy="400" r="2.5" fill="#98bdf6"/>
<circle cx="372" cy="416" r="2" fill="#98bdf6"/>
<circle cx="427" cy="473" r="2.5" fill="#98bdf6"/>
<circle cx="418" cy="492" r="2.5" fill="#98bdf6"/>
<circle cx="435" cy="543" r="2.5" fill="#98bdf6"/>
<circle cx="452" cy="441" r="1.5" fill="#98bdf6"/>
<circle cx="731" cy="213" r="1.5" fill="#98bdf6"/>
<circle cx="690" cy="417" r="1.8" fill="#98bdf6"/>
<circle cx="354" cy="307" r="1.5" fill="#98bdf6"/>
<circle cx="343" cy="344" r="1.5" fill="#98bdf6"/>
<path d="M335.0,236.0 C338.3,239.5 349.0,249.7 355.0,257.0 C361.0,264.3 364.3,271.5 371.0,280.0 C377.7,288.5 387.1,298.5 395.0,308.0 C402.9,317.5 411.2,329.6 418.7,336.8 C426.2,344.0 432.3,346.5 440.0,351.0 C447.7,355.5 457.3,359.7 465.0,363.7 C472.7,367.7 478.5,371.6 486.0,375.0 C493.5,378.4 499.1,381.8 510.0,384.0 C521.0,386.2 539.2,385.7 551.7,388.0 C564.2,390.3 575.8,394.9 585.0,398.0 C594.2,401.1 601.5,405.1 607.0,406.9 C612.5,408.7 616.2,408.6 618.0,409.0" fill="none" stroke="#cfcbc2" stroke-width="5.7" stroke-linecap="round" stroke-linejoin="round"/>
<path d="M375.0,280.0 C373.3,285.0 368.4,300.0 365.0,310.0 C361.6,320.0 357.7,331.1 354.4,339.8 C351.1,348.5 348.2,354.0 345.0,362.0 C341.8,370.0 336.7,383.3 335.0,387.6" fill="none" stroke="#cfcbc2" stroke-width="4.2" stroke-linecap="round" stroke-linejoin="round"/>
<path d="M335.0,265.0 C341.7,265.8 360.8,269.7 375.0,270.0 C389.2,270.3 406.5,267.3 420.0,267.0 C433.5,266.7 450.0,267.8 456.0,268.0" fill="none" stroke="#cfcbc2" stroke-width="4.2" stroke-linecap="round" stroke-linejoin="round"/>
<path d="M420.2,280.0 C420.4,285.0 422.4,301.4 421.7,309.9 C420.9,318.4 416.7,327.3 415.7,330.8" fill="none" stroke="#cfcbc2" stroke-width="3.2" stroke-linecap="round" stroke-linejoin="round"/>
<path d="M395.0,191.0 C397.5,193.3 404.5,199.7 410.0,205.0 C415.5,210.3 422.3,217.0 428.0,223.0 C433.7,229.0 439.3,233.7 444.0,241.0 C448.7,248.3 451.3,259.7 456.0,267.0 C460.7,274.3 466.0,279.2 472.0,285.0 C478.0,290.8 485.7,298.5 492.0,302.0 C498.3,305.5 507.0,305.3 510.0,306.0" fill="none" stroke="#cfcbc2" stroke-width="4.2" stroke-linecap="round" stroke-linejoin="round"/>
<path d="M494.0,304.0 C495.3,307.3 499.5,317.3 502.0,324.0 C504.5,330.7 507.5,338.0 509.0,344.0 C510.5,350.0 510.7,354.3 511.0,360.0 C511.3,365.7 511.0,375.0 511.0,378.0" fill="none" stroke="#cfcbc2" stroke-width="3.7" stroke-linecap="round" stroke-linejoin="round"/>
<path d="M505.0,306.0 C510.3,305.0 527.7,301.8 537.0,300.0 C546.3,298.2 557.0,295.8 561.0,295.0" fill="none" stroke="#cfcbc2" stroke-width="3.7" stroke-linecap="round" stroke-linejoin="round"/>
<path d="M593.0,213.0 C593.7,217.7 595.2,232.0 597.0,241.0 C598.8,250.0 600.5,260.8 604.0,267.0 C607.5,273.2 611.0,271.8 618.0,278.0 C625.0,284.2 635.7,295.3 646.0,304.0 C656.3,312.7 674.3,325.7 680.0,330.0" fill="none" stroke="#cfcbc2" stroke-width="3.7" stroke-linecap="round" stroke-linejoin="round"/>
<path d="M593.0,213.0 C594.5,212.3 596.5,209.7 602.0,209.0 C607.5,208.3 613.0,209.7 626.0,209.0 C639.0,208.3 671.0,205.7 680.0,205.0" fill="none" stroke="#cfcbc2" stroke-width="3.7" stroke-linecap="round" stroke-linejoin="round"/>
<path d="M820.0,191.0 C817.0,195.7 807.7,211.2 802.0,219.0 C796.3,226.8 792.8,233.5 786.0,238.0 C779.2,242.5 767.8,243.7 761.0,246.0 C754.2,248.3 750.0,248.7 745.0,252.0 C740.0,255.3 735.3,261.2 731.0,266.0 C726.7,270.8 722.5,276.5 719.0,281.0 C715.5,285.5 711.8,288.7 710.0,293.0 C708.2,297.3 707.5,302.0 708.0,307.0 C708.5,312.0 710.8,316.8 713.0,323.0 C715.2,329.2 718.3,336.5 721.0,344.0 C723.7,351.5 725.8,359.0 729.0,368.0 C732.2,377.0 736.2,387.7 740.0,398.0 C743.8,408.3 747.8,419.3 752.0,430.0 C756.2,440.7 760.7,451.2 765.0,462.0 C769.3,472.8 773.8,484.5 778.0,495.0 C782.2,505.5 786.3,515.3 790.0,525.0 C793.7,534.7 798.3,548.3 800.0,553.0" fill="none" stroke="#cfcbc2" stroke-width="6.2" stroke-linecap="round" stroke-linejoin="round"/>
<path d="M802.0,191.0 C800.0,195.0 792.3,207.5 790.0,215.0 C787.7,222.5 788.7,229.2 788.0,236.0 C787.3,242.8 787.7,250.0 786.0,256.0 C784.3,262.0 781.5,265.8 778.0,272.0 C774.5,278.2 767.8,287.8 765.0,293.0 C762.2,298.2 760.5,299.0 761.0,303.0 C761.5,307.0 765.2,310.5 768.0,317.0 C770.8,323.5 774.7,333.5 778.0,342.0 C781.3,350.5 784.3,359.0 788.0,368.0 C791.7,377.0 796.3,386.5 800.0,396.0 C803.7,405.5 806.3,415.2 810.0,425.0 C813.7,434.8 818.0,445.2 822.0,455.0 C826.0,464.8 830.2,474.8 834.0,484.0 C837.8,493.2 841.3,502.3 845.0,510.0 C848.7,517.7 854.2,526.7 856.0,530.0" fill="none" stroke="#cfcbc2" stroke-width="4.7" stroke-linecap="round" stroke-linejoin="round"/>
<path d="M731.0,272.0 C739.5,270.0 761.0,266.7 782.0,260.0 C803.0,253.3 844.5,236.7 857.0,232.0" fill="none" stroke="#cfcbc2" stroke-width="3.7" stroke-linecap="round" stroke-linejoin="round"/>
<path d="M680.0,271.0 L721.0,272.0" fill="none" stroke="#cfcbc2" stroke-width="3.7" stroke-linecap="round" stroke-linejoin="round"/>
<path d="M747.0,191.0 C749.0,193.7 757.3,200.2 759.0,207.0 C760.7,213.8 756.7,221.8 757.0,232.0 C757.3,242.2 760.3,262.0 761.0,268.0" fill="none" stroke="#cfcbc2" stroke-width="3.2" stroke-linecap="round" stroke-linejoin="round"/>
<path d="M761.0,303.0 C755.0,309.2 734.3,330.5 725.0,340.0 C715.7,349.5 708.3,356.7 705.0,360.0" fill="none" stroke="#cfcbc2" stroke-width="3.2" stroke-linecap="round" stroke-linejoin="round"/>
<path d="M857.0,289.0 C853.3,295.0 839.3,311.8 835.0,325.0 C830.7,338.2 832.5,356.3 831.0,368.0 C829.5,379.7 826.8,390.5 826.0,395.0" fill="none" stroke="#cfcbc2" stroke-width="3.7" stroke-linecap="round" stroke-linejoin="round"/>
<path d="M682.0,191.0 L692.0,215.0" fill="none" stroke="#cfcbc2" stroke-width="3.7" stroke-linecap="round" stroke-linejoin="round"/>
<path d="M714.0,191.0 C711.7,193.3 703.3,201.0 700.0,205.0 C696.7,209.0 695.8,210.0 694.0,215.0 C692.2,220.0 690.2,227.5 689.0,235.0 C687.8,242.5 687.5,250.8 687.0,260.0 C686.5,269.2 686.2,278.8 686.0,290.0 C685.8,301.2 686.0,320.8 686.0,327.0" fill="none" stroke="#cfcbc2" stroke-width="3.7" stroke-linecap="round" stroke-linejoin="round"/>
<path d="M680.0,329.0 L700.0,368.0" fill="none" stroke="#cfcbc2" stroke-width="3.7" stroke-linecap="round" stroke-linejoin="round"/>
<path d="M335.0,438.0 C338.3,439.3 348.3,442.8 355.0,446.0 C361.7,449.2 368.3,453.5 375.0,457.0 C381.7,460.5 388.2,465.0 395.0,467.0 C401.8,469.0 405.8,468.7 416.0,469.0 C426.2,469.3 440.3,468.0 456.0,469.0 C471.7,470.0 495.2,473.3 510.0,475.0 C524.8,476.7 531.0,477.3 545.0,479.0 C559.0,480.7 582.5,482.7 594.0,485.0 C605.5,487.3 610.7,491.7 614.0,493.0" fill="none" stroke="#cfcbc2" stroke-width="4.7" stroke-linecap="round" stroke-linejoin="round"/>
<path d="M335.0,450.0 C336.3,456.8 341.2,473.8 343.0,491.0 C344.8,508.2 345.5,542.7 346.0,553.0" fill="none" stroke="#cfcbc2" stroke-width="4.7" stroke-linecap="round" stroke-linejoin="round"/>
<path d="M425.0,553.0 C432.5,550.0 455.8,540.7 470.0,535.0 C484.2,529.3 497.5,523.3 510.0,519.0 C522.5,514.7 530.7,514.7 545.0,509.0 C559.3,503.3 582.5,491.7 596.0,485.0 C609.5,478.3 612.0,476.2 626.0,469.0 C640.0,461.8 660.8,451.3 680.0,442.0 C699.2,432.7 722.0,420.7 741.0,413.0 C760.0,405.3 774.7,402.2 794.0,396.0 C813.3,389.8 846.5,379.3 857.0,376.0" fill="none" stroke="#cfcbc2" stroke-width="5.7" stroke-linecap="round" stroke-linejoin="round"/>
<path d="M505.0,519.0 C515.0,515.7 546.2,503.7 565.0,499.0 C583.8,494.3 598.8,495.7 618.0,491.0 C637.2,486.3 656.2,479.0 680.0,471.0 C703.8,463.0 731.5,453.0 761.0,443.0 C790.5,433.0 841.0,416.3 857.0,411.0" fill="none" stroke="#cfcbc2" stroke-width="4.2" stroke-linecap="round" stroke-linejoin="round"/>
<path d="M525.0,553.0 C530.8,550.0 548.2,542.0 560.0,535.0 C571.8,528.0 590.0,515.0 596.0,511.0" fill="none" stroke="#cfcbc2" stroke-width="3.2" stroke-linecap="round" stroke-linejoin="round"/>
<path d="M652.0,420.0 C654.3,424.2 661.3,432.5 666.0,445.0 C670.7,457.5 677.7,486.7 680.0,495.0" fill="none" stroke="#cfcbc2" stroke-width="3.7" stroke-linecap="round" stroke-linejoin="round"/>
<path d="M680.0,382.0 L720.0,370.0" fill="none" stroke="#cfcbc2" stroke-width="3.7" stroke-linecap="round" stroke-linejoin="round"/>
<path d="M680.0,529.0 C693.5,524.2 731.5,509.8 761.0,500.0 C790.5,490.2 841.0,475.0 857.0,470.0" fill="none" stroke="#cfcbc2" stroke-width="3.7" stroke-linecap="round" stroke-linejoin="round"/>
<path d="M696.0,382.0 C699.5,393.5 709.5,429.3 717.0,451.0 C724.5,472.7 734.7,495.0 741.0,512.0 C747.3,529.0 752.7,546.2 755.0,553.0" fill="none" stroke="#cfcbc2" stroke-width="3.7" stroke-linecap="round" stroke-linejoin="round"/>
<path d="M731.0,370.0 L757.0,441.0" fill="none" stroke="#cfcbc2" stroke-width="3.2" stroke-linecap="round" stroke-linejoin="round"/>
<path d="M790.0,370.0 C793.3,379.2 802.5,406.0 810.0,425.0 C817.5,444.0 827.5,467.0 835.0,484.0 C842.5,501.0 851.7,519.8 855.0,527.0" fill="none" stroke="#cfcbc2" stroke-width="3.7" stroke-linecap="round" stroke-linejoin="round"/>
<path d="M826.0,382.0 L855.0,421.0" fill="none" stroke="#cfcbc2" stroke-width="3.2" stroke-linecap="round" stroke-linejoin="round"/>
<path d="M548.0,478.0 C548.7,482.5 551.2,492.5 552.0,505.0 C552.8,517.5 552.8,545.0 553.0,553.0" fill="none" stroke="#cfcbc2" stroke-width="3.2" stroke-linecap="round" stroke-linejoin="round"/>
<path d="M488.0,476.0 L520.0,505.0" fill="none" stroke="#cfcbc2" stroke-width="2.7" stroke-linecap="round" stroke-linejoin="round"/>
<path d="M335.0,236.0 C338.3,239.5 349.0,249.7 355.0,257.0 C361.0,264.3 364.3,271.5 371.0,280.0 C377.7,288.5 387.1,298.5 395.0,308.0 C402.9,317.5 411.2,329.6 418.7,336.8 C426.2,344.0 432.3,346.5 440.0,351.0 C447.7,355.5 457.3,359.7 465.0,363.7 C472.7,367.7 478.5,371.6 486.0,375.0 C493.5,378.4 499.1,381.8 510.0,384.0 C521.0,386.2 539.2,385.7 551.7,388.0 C564.2,390.3 575.8,394.9 585.0,398.0 C594.2,401.1 601.5,405.1 607.0,406.9 C612.5,408.7 616.2,408.6 618.0,409.0" fill="none" stroke="#fefefe" stroke-width="4.5" stroke-linecap="round" stroke-linejoin="round"/>
<path d="M375.0,280.0 C373.3,285.0 368.4,300.0 365.0,310.0 C361.6,320.0 357.7,331.1 354.4,339.8 C351.1,348.5 348.2,354.0 345.0,362.0 C341.8,370.0 336.7,383.3 335.0,387.6" fill="none" stroke="#fefefe" stroke-width="3" stroke-linecap="round" stroke-linejoin="round"/>
<path d="M335.0,265.0 C341.7,265.8 360.8,269.7 375.0,270.0 C389.2,270.3 406.5,267.3 420.0,267.0 C433.5,266.7 450.0,267.8 456.0,268.0" fill="none" stroke="#fefefe" stroke-width="3" stroke-linecap="round" stroke-linejoin="round"/>
<path d="M420.2,280.0 C420.4,285.0 422.4,301.4 421.7,309.9 C420.9,318.4 416.7,327.3 415.7,330.8" fill="none" stroke="#fefefe" stroke-width="2" stroke-linecap="round" stroke-linejoin="round"/>
<path d="M395.0,191.0 C397.5,193.3 404.5,199.7 410.0,205.0 C415.5,210.3 422.3,217.0 428.0,223.0 C433.7,229.0 439.3,233.7 444.0,241.0 C448.7,248.3 451.3,259.7 456.0,267.0 C460.7,274.3 466.0,279.2 472.0,285.0 C478.0,290.8 485.7,298.5 492.0,302.0 C498.3,305.5 507.0,305.3 510.0,306.0" fill="none" stroke="#fefefe" stroke-width="3" stroke-linecap="round" stroke-linejoin="round"/>
<path d="M494.0,304.0 C495.3,307.3 499.5,317.3 502.0,324.0 C504.5,330.7 507.5,338.0 509.0,344.0 C510.5,350.0 510.7,354.3 511.0,360.0 C511.3,365.7 511.0,375.0 511.0,378.0" fill="none" stroke="#fefefe" stroke-width="2.5" stroke-linecap="round" stroke-linejoin="round"/>
<path d="M505.0,306.0 C510.3,305.0 527.7,301.8 537.0,300.0 C546.3,298.2 557.0,295.8 561.0,295.0" fill="none" stroke="#fefefe" stroke-width="2.5" stroke-linecap="round" stroke-linejoin="round"/>
<path d="M593.0,213.0 C593.7,217.7 595.2,232.0 597.0,241.0 C598.8,250.0 600.5,260.8 604.0,267.0 C607.5,273.2 611.0,271.8 618.0,278.0 C625.0,284.2 635.7,295.3 646.0,304.0 C656.3,312.7 674.3,325.7 680.0,330.0" fill="none" stroke="#fefefe" stroke-width="2.5" stroke-linecap="round" stroke-linejoin="round"/>
<path d="M593.0,213.0 C594.5,212.3 596.5,209.7 602.0,209.0 C607.5,208.3 613.0,209.7 626.0,209.0 C639.0,208.3 671.0,205.7 680.0,205.0" fill="none" stroke="#fefefe" stroke-width="2.5" stroke-linecap="round" stroke-linejoin="round"/>
<path d="M820.0,191.0 C817.0,195.7 807.7,211.2 802.0,219.0 C796.3,226.8 792.8,233.5 786.0,238.0 C779.2,242.5 767.8,243.7 761.0,246.0 C754.2,248.3 750.0,248.7 745.0,252.0 C740.0,255.3 735.3,261.2 731.0,266.0 C726.7,270.8 722.5,276.5 719.0,281.0 C715.5,285.5 711.8,288.7 710.0,293.0 C708.2,297.3 707.5,302.0 708.0,307.0 C708.5,312.0 710.8,316.8 713.0,323.0 C715.2,329.2 718.3,336.5 721.0,344.0 C723.7,351.5 725.8,359.0 729.0,368.0 C732.2,377.0 736.2,387.7 740.0,398.0 C743.8,408.3 747.8,419.3 752.0,430.0 C756.2,440.7 760.7,451.2 765.0,462.0 C769.3,472.8 773.8,484.5 778.0,495.0 C782.2,505.5 786.3,515.3 790.0,525.0 C793.7,534.7 798.3,548.3 800.0,553.0" fill="none" stroke="#fefefe" stroke-width="5" stroke-linecap="round" stroke-linejoin="round"/>
<path d="M802.0,191.0 C800.0,195.0 792.3,207.5 790.0,215.0 C787.7,222.5 788.7,229.2 788.0,236.0 C787.3,242.8 787.7,250.0 786.0,256.0 C784.3,262.0 781.5,265.8 778.0,272.0 C774.5,278.2 767.8,287.8 765.0,293.0 C762.2,298.2 760.5,299.0 761.0,303.0 C761.5,307.0 765.2,310.5 768.0,317.0 C770.8,323.5 774.7,333.5 778.0,342.0 C781.3,350.5 784.3,359.0 788.0,368.0 C791.7,377.0 796.3,386.5 800.0,396.0 C803.7,405.5 806.3,415.2 810.0,425.0 C813.7,434.8 818.0,445.2 822.0,455.0 C826.0,464.8 830.2,474.8 834.0,484.0 C837.8,493.2 841.3,502.3 845.0,510.0 C848.7,517.7 854.2,526.7 856.0,530.0" fill="none" stroke="#fefefe" stroke-width="3.5" stroke-linecap="round" stroke-linejoin="round"/>
<path d="M731.0,272.0 C739.5,270.0 761.0,266.7 782.0,260.0 C803.0,253.3 844.5,236.7 857.0,232.0" fill="none" stroke="#fefefe" stroke-width="2.5" stroke-linecap="round" stroke-linejoin="round"/>
<path d="M680.0,271.0 L721.0,272.0" fill="none" stroke="#fefefe" stroke-width="2.5" stroke-linecap="round" stroke-linejoin="round"/>
<path d="M747.0,191.0 C749.0,193.7 757.3,200.2 759.0,207.0 C760.7,213.8 756.7,221.8 757.0,232.0 C757.3,242.2 760.3,262.0 761.0,268.0" fill="none" stroke="#fefefe" stroke-width="2" stroke-linecap="round" stroke-linejoin="round"/>
<path d="M761.0,303.0 C755.0,309.2 734.3,330.5 725.0,340.0 C715.7,349.5 708.3,356.7 705.0,360.0" fill="none" stroke="#fefefe" stroke-width="2" stroke-linecap="round" stroke-linejoin="round"/>
<path d="M857.0,289.0 C853.3,295.0 839.3,311.8 835.0,325.0 C830.7,338.2 832.5,356.3 831.0,368.0 C829.5,379.7 826.8,390.5 826.0,395.0" fill="none" stroke="#fefefe" stroke-width="2.5" stroke-linecap="round" stroke-linejoin="round"/>
<path d="M682.0,191.0 L692.0,215.0" fill="none" stroke="#fefefe" stroke-width="2.5" stroke-linecap="round" stroke-linejoin="round"/>
<path d="M714.0,191.0 C711.7,193.3 703.3,201.0 700.0,205.0 C696.7,209.0 695.8,210.0 694.0,215.0 C692.2,220.0 690.2,227.5 689.0,235.0 C687.8,242.5 687.5,250.8 687.0,260.0 C686.5,269.2 686.2,278.8 686.0,290.0 C685.8,301.2 686.0,320.8 686.0,327.0" fill="none" stroke="#fefefe" stroke-width="2.5" stroke-linecap="round" stroke-linejoin="round"/>
<path d="M680.0,329.0 L700.0,368.0" fill="none" stroke="#fefefe" stroke-width="2.5" stroke-linecap="round" stroke-linejoin="round"/>
<path d="M335.0,438.0 C338.3,439.3 348.3,442.8 355.0,446.0 C361.7,449.2 368.3,453.5 375.0,457.0 C381.7,460.5 388.2,465.0 395.0,467.0 C401.8,469.0 405.8,468.7 416.0,469.0 C426.2,469.3 440.3,468.0 456.0,469.0 C471.7,470.0 495.2,473.3 510.0,475.0 C524.8,476.7 531.0,477.3 545.0,479.0 C559.0,480.7 582.5,482.7 594.0,485.0 C605.5,487.3 610.7,491.7 614.0,493.0" fill="none" stroke="#fefefe" stroke-width="3.5" stroke-linecap="round" stroke-linejoin="round"/>
<path d="M335.0,450.0 C336.3,456.8 341.2,473.8 343.0,491.0 C344.8,508.2 345.5,542.7 346.0,553.0" fill="none" stroke="#fefefe" stroke-width="3.5" stroke-linecap="round" stroke-linejoin="round"/>
<path d="M425.0,553.0 C432.5,550.0 455.8,540.7 470.0,535.0 C484.2,529.3 497.5,523.3 510.0,519.0 C522.5,514.7 530.7,514.7 545.0,509.0 C559.3,503.3 582.5,491.7 596.0,485.0 C609.5,478.3 612.0,476.2 626.0,469.0 C640.0,461.8 660.8,451.3 680.0,442.0 C699.2,432.7 722.0,420.7 741.0,413.0 C760.0,405.3 774.7,402.2 794.0,396.0 C813.3,389.8 846.5,379.3 857.0,376.0" fill="none" stroke="#fefefe" stroke-width="4.5" stroke-linecap="round" stroke-linejoin="round"/>
<path d="M505.0,519.0 C515.0,515.7 546.2,503.7 565.0,499.0 C583.8,494.3 598.8,495.7 618.0,491.0 C637.2,486.3 656.2,479.0 680.0,471.0 C703.8,463.0 731.5,453.0 761.0,443.0 C790.5,433.0 841.0,416.3 857.0,411.0" fill="none" stroke="#fefefe" stroke-width="3" stroke-linecap="round" stroke-linejoin="round"/>
<path d="M525.0,553.0 C530.8,550.0 548.2,542.0 560.0,535.0 C571.8,528.0 590.0,515.0 596.0,511.0" fill="none" stroke="#fefefe" stroke-width="2" stroke-linecap="round" stroke-linejoin="round"/>
<path d="M652.0,420.0 C654.3,424.2 661.3,432.5 666.0,445.0 C670.7,457.5 677.7,486.7 680.0,495.0" fill="none" stroke="#fefefe" stroke-width="2.5" stroke-linecap="round" stroke-linejoin="round"/>
<path d="M680.0,382.0 L720.0,370.0" fill="none" stroke="#fefefe" stroke-width="2.5" stroke-linecap="round" stroke-linejoin="round"/>
<path d="M680.0,529.0 C693.5,524.2 731.5,509.8 761.0,500.0 C790.5,490.2 841.0,475.0 857.0,470.0" fill="none" stroke="#fefefe" stroke-width="2.5" stroke-linecap="round" stroke-linejoin="round"/>
<path d="M696.0,382.0 C699.5,393.5 709.5,429.3 717.0,451.0 C724.5,472.7 734.7,495.0 741.0,512.0 C747.3,529.0 752.7,546.2 755.0,553.0" fill="none" stroke="#fefefe" stroke-width="2.5" stroke-linecap="round" stroke-linejoin="round"/>
<path d="M731.0,370.0 L757.0,441.0" fill="none" stroke="#fefefe" stroke-width="2" stroke-linecap="round" stroke-linejoin="round"/>
<path d="M790.0,370.0 C793.3,379.2 802.5,406.0 810.0,425.0 C817.5,444.0 827.5,467.0 835.0,484.0 C842.5,501.0 851.7,519.8 855.0,527.0" fill="none" stroke="#fefefe" stroke-width="2.5" stroke-linecap="round" stroke-linejoin="round"/>
<path d="M826.0,382.0 L855.0,421.0" fill="none" stroke="#fefefe" stroke-width="2" stroke-linecap="round" stroke-linejoin="round"/>
<path d="M548.0,478.0 C548.7,482.5 551.2,492.5 552.0,505.0 C552.8,517.5 552.8,545.0 553.0,553.0" fill="none" stroke="#fefefe" stroke-width="2" stroke-linecap="round" stroke-linejoin="round"/>
<path d="M488.0,476.0 L520.0,505.0" fill="none" stroke="#fefefe" stroke-width="1.5" stroke-linecap="round" stroke-linejoin="round"/>
<path d="M561.0,295.0 C564.3,293.8 573.5,291.2 581.0,288.0 C588.5,284.8 599.8,277.7 606.0,276.0 C612.2,274.3 613.0,278.0 618.0,278.0 C623.0,278.0 629.3,277.8 636.0,276.0 C642.7,274.2 650.7,267.7 658.0,267.0 C665.3,266.3 675.3,271.2 680.0,272.0 C684.7,272.8 685.0,272.0 686.0,272.0" fill="none" stroke="#3f9f3f" stroke-width="1.3" stroke-dasharray="1.3,1.5"/>
<path d="M713.0,192.0 C710.8,194.2 703.2,201.2 700.0,205.0 C696.8,208.8 695.8,210.0 694.0,215.0 C692.2,220.0 690.2,227.5 689.0,235.0 C687.8,242.5 687.5,250.8 687.0,260.0 C686.5,269.2 686.2,278.8 686.0,290.0 C685.8,301.2 685.3,320.3 686.0,327.0 C686.7,333.7 687.7,326.8 690.0,330.0 C692.3,333.2 696.7,339.3 700.0,346.0 C703.3,352.7 703.5,354.2 710.0,370.0 C716.5,385.8 734.2,429.2 739.0,441.0" fill="none" stroke="#3f9f3f" stroke-width="1.3" stroke-dasharray="1.3,1.5"/>
<path d="M729.0,272.0 C728.3,274.8 725.0,284.5 725.0,289.0 C725.0,293.5 731.8,295.7 729.0,299.0 C726.2,302.3 711.5,307.3 708.0,309.0" fill="none" stroke="#3f9f3f" stroke-width="1.3" stroke-dasharray="1.3,1.5"/>
<path d="M729.0,299.0 C730.3,298.3 732.0,294.7 737.0,295.0 C742.0,295.3 755.3,300.0 759.0,301.0" fill="none" stroke="#3f9f3f" stroke-width="1.3" stroke-dasharray="1.3,1.5"/>
<path d="M751.0,293.0 L747.0,258.0" fill="none" stroke="#3f9f3f" stroke-width="1.3" stroke-dasharray="1.3,1.5"/>
<path d="M741.0,374.0 C745.7,387.5 761.7,434.8 769.0,455.0 C776.3,475.2 779.2,480.7 785.0,495.0 C790.8,509.3 800.8,533.3 804.0,541.0" fill="none" stroke="#3f9f3f" stroke-width="1.3" stroke-dasharray="1.3,1.5"/>
<path d="M692.0,429.0 L702.0,451.0" fill="none" stroke="#3f9f3f" stroke-width="1.3" stroke-dasharray="1.3,1.5"/>
<path d="M701.0,446.0 C708.3,444.3 734.8,439.8 745.0,436.0 C755.2,432.2 759.2,425.2 762.0,423.0" fill="none" stroke="#3f9f3f" stroke-width="1.3" stroke-dasharray="1.3,1.5"/>
<path d="M794.0,466.0 L810.0,458.0" fill="none" stroke="#3f9f3f" stroke-width="1.3" stroke-dasharray="1.3,1.5"/>
<path d="M654,541 L680,531 L700,524" fill="none" stroke="#3a9a2a" stroke-width="1.2"/>
<path d="M738,512 L760,505 M780,500 L800,494" fill="none" stroke="#3a9a2a" stroke-width="1.2"/>
<text x="644" y="212" font-family="Liberation Sans" font-size="9.5" fill="#555" text-anchor="middle" transform="rotate(0 644 212)" stroke="#fff" stroke-width="2" paint-order="stroke" stroke-opacity="0.8" >Duke Ave</text>
<text x="596" y="246" font-family="Liberation Sans" font-size="9.5" fill="#555" text-anchor="middle" transform="rotate(72 596 246)" stroke="#fff" stroke-width="2" paint-order="stroke" stroke-opacity="0.8" >Clement Rd</text>
<text x="554" y="317" font-family="Liberation Sans" font-size="10" fill="#3a66b8" text-anchor="middle" transform="rotate(58 554 317)" stroke="#fff" stroke-width="2" paint-order="stroke" stroke-opacity="0.8" >Broad River</text>
<text x="535" y="348" font-family="Liberation Sans" font-size="9" fill="#555" text-anchor="middle" transform="rotate(58 535 348)" stroke="#fff" stroke-width="2" paint-order="stroke" stroke-opacity="0.8" >Skyland Dr</text>
<text x="517" y="369" font-family="Liberation Sans" font-size="9" fill="#555" text-anchor="middle" transform="rotate(15 517 369)" stroke="#fff" stroke-width="2" paint-order="stroke" stroke-opacity="0.8" >Stoneridge Dr</text>
<text x="504" y="405" font-family="Liberation Sans" font-size="10" fill="#3a66b8" text-anchor="middle" transform="rotate(30 504 405)" stroke="#fff" stroke-width="2" paint-order="stroke" stroke-opacity="0.8" >Saluda River</text>
<text x="393.5" y="509.5" font-family="Liberation Sans" font-size="9" fill="#555" text-anchor="middle" transform="rotate(62 393.5 509.5)" stroke="#fff" stroke-width="2" paint-order="stroke" stroke-opacity="0.8" >Hook Ave</text>
<text x="439" y="527" font-family="Liberation Sans" font-size="9" fill="#555" text-anchor="middle" transform="rotate(-25 439 527)" stroke="#fff" stroke-width="2" paint-order="stroke" stroke-opacity="0.8" >Holland St</text>
<text x="710" y="420" font-family="Liberation Sans" font-size="9.5" fill="#555" text-anchor="middle" transform="rotate(70 710 420)" stroke="#fff" stroke-width="2" paint-order="stroke" stroke-opacity="0.8" >Assembly St</text>
<text x="826" y="473" font-family="Liberation Sans" font-size="9.5" fill="#555" text-anchor="middle" transform="rotate(68 826 473)" stroke="#fff" stroke-width="2" paint-order="stroke" stroke-opacity="0.8" >Harden St</text>
<text x="842" y="447" font-family="Liberation Sans" font-size="9" fill="#555" text-anchor="middle" transform="rotate(-35 842 447)" stroke="#fff" stroke-width="2" paint-order="stroke" stroke-opacity="0.8" >Greene St</text>
<text x="824" y="529" font-family="Liberation Sans" font-size="9" fill="#555" text-anchor="middle" transform="rotate(-18 824 529)" stroke="#fff" stroke-width="2" paint-order="stroke" stroke-opacity="0.8" >Heyward St</text>
<text x="441" y="246" font-family="Liberation Sans" font-size="8.5" fill="#555" text-anchor="middle" transform="rotate(-40 441 246)" stroke="#fff" stroke-width="2" paint-order="stroke" stroke-opacity="0.8" >Omar</text>
<text x="521" y="502.8" font-family="Liberation Sans" font-size="11.5" fill="#6b5f4e" text-anchor="middle" stroke="#fff" stroke-width="2" paint-order="stroke" stroke-opacity="0.7">West</text>
<text x="520.6" y="512.8" font-family="Liberation Sans" font-size="11.5" fill="#6b5f4e" text-anchor="middle" stroke="#fff" stroke-width="2" paint-order="stroke" stroke-opacity="0.7">Columbia</text>
<text x="690.5" y="462.5" font-family="Liberation Sans" font-size="16" fill="#66543c" letter-spacing="0.75" stroke="#fff" stroke-width="2" paint-order="stroke" stroke-opacity="0.7">Columbia</text>
<text x="774" y="476" font-family="Liberation Sans" font-size="8.5" font-style="italic" fill="#8a8070" text-anchor="middle" letter-spacing="0.3">MIDTOWN -</text>
<text x="774" y="485" font-family="Liberation Sans" font-size="8.5" font-style="italic" fill="#8a8070" text-anchor="middle" letter-spacing="0.3">DOWNTOWN</text>
<rect x="818.5" y="192" width="19" height="10" rx="4" fill="#fff" stroke="#6b6b6b" stroke-width="0.9"/>
<text x="828.0" y="200.3" font-family="Liberation Sans" font-size="9" font-weight="bold" fill="#444" text-anchor="middle">277</text>
<rect x="699.5" y="285" width="19" height="10" rx="4" fill="#fff" stroke="#6b6b6b" stroke-width="0.9"/>
<text x="709.0" y="293.3" font-family="Liberation Sans" font-size="9" font-weight="bold" fill="#444" text-anchor="middle">277</text>
<path d="M489,373 h11 v7 q0,4 -5.5,6 q-5.5,-2 -5.5,-6z" fill="#fff" stroke="#333" stroke-width="0.9"/>
<text x="494.5" y="381" font-family="Liberation Sans" font-size="7" font-weight="bold" fill="#222" text-anchor="middle">76</text>
<path d="M348,331 h14 v6 q0,5 -7,7 q-7,-2 -7,-7z" fill="#a2a2a2" stroke="#eee" stroke-width="0.8"/>
<text x="355" y="340.5" font-family="Liberation Sans" font-size="7.5" font-weight="bold" fill="#eee" text-anchor="middle">26</text>
<path d="M339,509 h14 v6 q0,5 -7,7 q-7,-2 -7,-7z" fill="#a2a2a2" stroke="#eee" stroke-width="0.8"/>
<text x="346" y="518.5" font-family="Liberation Sans" font-size="7.5" font-weight="bold" fill="#eee" text-anchor="middle">26</text>
<rect x="692" y="494" width="7" height="7" rx="1" fill="#5b9bd9"/>
<path d="M554.3,251.0 C553.6,250.9 551.4,250.4 550.0,250.5 C548.6,250.6 546.8,250.1 546.2,251.3 C545.6,252.6 546.3,255.3 546.5,258.0 C546.7,260.7 546.6,263.5 547.2,267.4 C547.8,271.3 549.3,276.6 550.3,281.5 C551.3,286.4 552.8,294.1 553.3,296.6" fill="none" stroke="#0d5b12" stroke-width="2.2" stroke-linecap="round" stroke-linejoin="round"/>
<path d="M625.7,444.4 C626.6,445.7 629.0,449.0 631.0,452.0 C633.0,455.0 634.7,457.9 637.8,462.5 C640.9,467.1 647.8,476.8 649.8,479.6" fill="none" stroke="#0d5b12" stroke-width="2.2" stroke-linecap="round" stroke-linejoin="round"/>
<path d="M651.9,485.7 L655.9,486.7" fill="none" stroke="#0d5b12" stroke-width="2.2" stroke-linecap="round" stroke-linejoin="round"/>
<path d="M592.5,481.6 C594.9,480.4 603.8,475.1 606.6,474.6 C609.5,474.1 605.4,475.6 609.6,478.6 C613.8,481.6 626.0,487.7 631.7,492.7 C637.4,497.7 640.4,503.1 643.8,508.8 C647.2,514.5 649.9,521.5 651.9,526.9 C653.9,532.3 655.0,536.6 655.9,541.0 C656.8,545.4 656.8,551.0 657.0,553.0" fill="none" stroke="#0d5b12" stroke-width="2.2" stroke-linecap="round" stroke-linejoin="round"/>
<path d="M553.3,296.6 C555.3,299.8 561.4,310.5 565.4,315.7 C569.4,320.9 573.7,323.8 577.4,327.8 C581.1,331.8 585.1,335.9 587.5,339.9 C589.9,343.9 590.3,347.5 591.5,351.9 C592.7,356.2 593.7,361.6 594.5,366.0 C595.3,370.4 595.0,373.3 596.5,378.0 C598.0,382.7 602.8,388.4 603.6,394.1 C604.5,399.8 601.3,407.2 601.6,412.2 C601.9,417.2 603.6,420.6 605.6,424.3 C607.6,428.0 610.6,431.2 613.6,434.4 C616.6,437.6 621.0,441.9 623.7,443.4 C626.4,444.9 627.2,444.2 629.7,443.4 C632.2,442.6 637.3,439.2 638.8,438.4" fill="none" stroke="#7a0000" stroke-width="2.8" stroke-linecap="round" stroke-linejoin="round"/>
<path d="M553.3,296.6 C555.3,299.8 561.4,310.5 565.4,315.7 C569.4,320.9 573.7,323.8 577.4,327.8 C581.1,331.8 585.1,335.9 587.5,339.9 C589.9,343.9 590.3,347.5 591.5,351.9 C592.7,356.2 593.7,361.6 594.5,366.0 C595.3,370.4 595.0,373.3 596.5,378.0 C598.0,382.7 602.8,388.4 603.6,394.1 C604.5,399.8 601.3,407.2 601.6,412.2 C601.9,417.2 603.6,420.6 605.6,424.3 C607.6,428.0 610.6,431.2 613.6,434.4 C616.6,437.6 621.0,441.9 623.7,443.4 C626.4,444.9 627.2,444.2 629.7,443.4 C632.2,442.6 637.3,439.2 638.8,438.4" fill="none" stroke="#d81414" stroke-width="1.6" stroke-linecap="round" stroke-linejoin="round"/>
<path d="M757.9,486.0 C758.6,487.5 760.6,491.8 762.0,495.0 C763.4,498.2 764.7,502.0 766.0,505.0 C767.3,508.0 768.5,510.2 770.0,513.0 C771.5,515.8 773.2,518.8 775.0,522.0 C776.8,525.2 779.9,530.3 780.9,532.0" fill="none" stroke="#0d5b12" stroke-width="2.3" stroke-linecap="round" stroke-linejoin="round"/>
<path d="M755.6,485.6 L767.1,487.6" fill="none" stroke="#0d5b12" stroke-width="2.3" stroke-linecap="round" stroke-linejoin="round"/>
<path d="M757.0,487.0 L757.5,492.0" fill="none" stroke="#0d5b12" stroke-width="2.3" stroke-linecap="round" stroke-linejoin="round"/>
<path d="M766.0,515.9 L774.0,514.7" fill="none" stroke="#0d5b12" stroke-width="2.3" stroke-linecap="round" stroke-linejoin="round"/>
<path d="M769.4,520.5 L775.2,519.3" fill="none" stroke="#0d5b12" stroke-width="2.3" stroke-linecap="round" stroke-linejoin="round"/>
<path d="M768.3,504.4 L774.0,502.1" fill="none" stroke="#0d5b12" stroke-width="2.3" stroke-linecap="round" stroke-linejoin="round"/>
<path d="M785.5,494.0 C787.2,492.7 793.6,486.2 795.9,486.0 C798.2,485.8 799.1,491.0 799.3,492.9 C799.5,494.8 797.4,496.7 797.0,497.5" fill="none" stroke="#0d5b12" stroke-width="2.3" stroke-linecap="round" stroke-linejoin="round"/>
<path d="M795.9,486.0 C796.7,485.2 798.6,482.7 800.5,481.4 C802.4,480.1 805.5,479.7 807.4,478.0 C809.3,476.3 811.4,472.7 812.0,471.0 C812.6,469.3 810.4,468.7 810.8,467.6 C811.2,466.6 813.7,465.2 814.3,464.7" fill="none" stroke="#0d5b12" stroke-width="2.3" stroke-linecap="round" stroke-linejoin="round"/>
<path d="M800.5,481.4 C801.1,480.5 802.8,477.1 804.0,476.0 C805.2,474.9 807.3,475.2 808.0,475.0" fill="none" stroke="#0d5b12" stroke-width="2.3" stroke-linecap="round" stroke-linejoin="round"/>
<path d="M735.0,512.4 C735.0,514.7 732.9,524.2 735.0,526.2 C737.1,528.2 745.5,525.9 747.6,524.5 C749.7,523.1 747.6,519.1 747.6,518.0" fill="none" stroke="#0d5b12" stroke-width="2.3" stroke-linecap="round" stroke-linejoin="round"/>
<path d="M739.0,512.0 C739.0,513.3 737.8,518.8 739.0,520.0 C740.2,521.2 744.8,519.2 746.0,519.0" fill="none" stroke="#0d5b12" stroke-width="2.3" stroke-linecap="round" stroke-linejoin="round"/>
<path d="M743.0,511.3 L743.0,519.0" fill="none" stroke="#0d5b12" stroke-width="2.3" stroke-linecap="round" stroke-linejoin="round"/>
<path d="M747.6,515.9 L751.0,515.3" fill="none" stroke="#0d5b12" stroke-width="2.3" stroke-linecap="round" stroke-linejoin="round"/>
<path d="M808.5,454.4 L812.0,453.8" fill="none" stroke="#0d5b12" stroke-width="2.3" stroke-linecap="round" stroke-linejoin="round"/>
<path d="M727.0,464.0 L746.4,469.0" fill="none" stroke="#0d5b12" stroke-width="2.3" stroke-linecap="round" stroke-linejoin="round"/>
<path d="M729.0,470.0 L744.0,465.0" fill="none" stroke="#0d5b12" stroke-width="2.3" stroke-linecap="round" stroke-linejoin="round"/>
<path d="M737.0,462.0 L739.0,472.0" fill="none" stroke="#0d5b12" stroke-width="2.3" stroke-linecap="round" stroke-linejoin="round"/>
<path d="M765,467 L767,461 L769,463 L771,458.5 L773,462 L776,459 L778,462 L781,459.5 L783,463 L786,461 L789,464 L787,467.6 Z" fill="#0d5b12"/>
<ellipse cx="777.5" cy="498" rx="2.5" ry="3" fill="#0d5b12"/>
<ellipse cx="758.5" cy="490" rx="2" ry="2.5" fill="#0d5b12"/>
<path d="M754.5,513.6 L768.3,509 M775.2,505.5 L789,500.3" stroke="#3aa02a" stroke-width="1.4" fill="none"/>
<path d="M622.7,444.4 C618.3950000000001,433.415 610.4000000000001,427.265 610.4000000000001,420.5 A12.3,12.3 0 0 1 635.0,420.5 C635.0,427.265 627.005,433.415 622.7,444.4Z" fill="#e0436a"/>
<path d="M622.7,444.4 C627.005,433.415 635.0,427.265 635.0,420.5 A12.3,12.3 0 0 0 622.7,408.2Z" fill="#ea5a7e"/>
<circle cx="622.7" cy="420.5" r="6.15" fill="#2e2e2e"/>
<rect x="619.994" y="417.794" width="5.412" height="5.412" fill="#fff"/>
<path d="M638.8,438.5 C633.8299999999999,428.41 624.5999999999999,421.31 624.5999999999999,413.5 A14.2,14.2 0 0 1 653.0,413.5 C653.0,421.31 643.77,428.41 638.8,438.5Z" fill="#4d9a1c"/>
<path d="M638.8,438.5 C643.77,428.41 653.0,421.31 653.0,413.5 A14.2,14.2 0 0 0 638.8,399.3Z" fill="#5cb424"/>
<circle cx="638.8" cy="413.5" r="7.1" fill="#2e2e2e"/>
<path d="M636.386,409.24 L643.06,413.5 L636.386,417.76Z" fill="#fff"/></svg>
<!--/MAPSVG-->
<!--MAPCTRL-->
<div class="a mctl" style="left:344px;top:200px;width:44px;height:22px">
  <div style="position:absolute;left:20px;top:0;width:1px;height:19px;background:#c4c4c4"></div>
  <div class="mplus" style="left:5px;top:8px;width:11px;height:3px"></div><div class="mplus" style="left:9px;top:4px;width:3px;height:11px"></div>
  <div class="mplus" style="left:26px;top:8px;width:11px;height:3px"></div>
</div>
<div class="a mctl" style="left:393px;top:200px;width:64px;height:22px"><span class="mtxt" style="left:6px">Google</span><span class="mcar" style="left:51px"></span></div>
<div class="a mctl" style="left:462px;top:200px;width:50px;height:22px"><span class="mtxt" style="left:7px">Map</span><span class="mcar" style="left:36px"></span></div>
<div class="a mctl" style="left:517px;top:200px;width:44px;height:22px">
  <svg style="position:absolute;left:7px;top:2px" width="16" height="16" viewBox="0 0 16 16"><path d="M8,1.5 L14.5,5 L8,8.5 L1.5,5Z" fill="none" stroke="#3b6fcc" stroke-width="1.8" stroke-linejoin="round"/><path d="M1.5,8.3 L8,11.8 L14.5,8.3" fill="none" stroke="#3b6fcc" stroke-width="1.8" stroke-linejoin="round"/><path d="M1.5,11.6 L8,15 L14.5,11.6" fill="none" stroke="#3b6fcc" stroke-width="1.8" stroke-linejoin="round"/></svg>
  <span class="mcar" style="left:30px"></span></div>
<div class="a gl">Google</div>
<div class="a attr1">Map data ©2015 Google</div>
<div class="a attr2"><span style="position:absolute;left:4px">1 km</span><span class="sbar"></span></div>
<div class="a attr3">Terms of Use</div>
<div class="a attr4">Report a map error</div>
<!--/MAPCTRL-->


<!-- CHARTS PANEL -->
<div class="a panel" style="left:328px;top:569px;width:537px;height:370px">
  <div class="phead"></div>
</div>
<div class="a tri-d" style="left:339px;top:582px"></div>
<div class="a ptitle" style="left:361px;top:577px">Charts</div>
<div class="a chk" style="left:798px;top:583px"></div>
<div class="a" style="left:815px;top:582px;font-size:10px;color:#222;line-height:12px;letter-spacing:0.1px">Average</div>
<div class="a sep" style="left:335px;top:601px;width:522px"></div>
<div class="a tri-ds" style="left:343px;top:616px"></div>
<div class="a" style="left:382px;top:612px;font-size:12px;color:#111;line-height:14px">Timing</div>
<div class="a expbtn" style="left:838px;top:609px"></div>
<div class="a chartbox" style="left:335px;top:634px;width:523px;height:184px"></div>
<div class="a sep" style="left:335px;top:824px;width:522px"></div>
<div class="a tri-ds" style="left:343px;top:838px"></div>
<div class="a" style="left:382px;top:834px;font-size:12px;color:#111;line-height:14px">Elevation</div>
<div class="a expbtn" style="left:838px;top:831px"></div>
<div class="a chartbox" style="left:335px;top:857px;width:523px;height:100px"></div>

<!--CHARTSVG-->
<svg class="a" style="left:335px;top:634px" width="523" height="184" viewBox="335 634 523 184">
<line x1="402" y1="654.9" x2="846.5" y2="654.9" stroke="#e4e4e4" stroke-width="1"/>
<line x1="402" y1="673.1" x2="846.5" y2="673.1" stroke="#e4e4e4" stroke-width="1"/>
<line x1="402" y1="691.5" x2="846.5" y2="691.5" stroke="#e4e4e4" stroke-width="1"/>
<line x1="402" y1="709.8" x2="846.5" y2="709.8" stroke="#e4e4e4" stroke-width="1"/>
<line x1="402" y1="728.0" x2="846.5" y2="728.0" stroke="#e4e4e4" stroke-width="1"/>
<line x1="402" y1="746.2" x2="846.5" y2="746.2" stroke="#e4e4e4" stroke-width="1"/>
<line x1="402" y1="764.5" x2="846.5" y2="764.5" stroke="#e4e4e4" stroke-width="1"/>
<polygon points="409.7,778.5 409.7,766.6 412.4,670.6 417.2,675.3 425.3,669.2 426.7,682.7 428.7,679.4 430.4,682.7 432.7,671.9 434.8,676.0 436.8,674.6 441.5,677.3 447.0,677.7 450.3,675.0 451.7,676.4 453.4,674.4 456.2,683.0 459.1,680.4 460.5,681.1 462.5,687.5 464.5,675.3 466.6,674.6 469.3,679.4 471.3,677.3 474.0,680.0 478.1,677.7 480.8,678.0 482.8,676.0 484.8,682.0 486.6,694.2 490.2,670.6 493.0,673.3 497.0,676.0 500.4,680.0 503.1,681.4 506.8,671.0 508.1,677.7 510.3,676.6 512.0,682.0 514.0,679.4 516.1,679.4 516.8,676.0 517.8,722.0 518.8,676.0 520.6,667.2 522.9,669.9 526.2,676.0 528.3,675.3 530.3,672.6 532.3,673.3 534.1,682.0 536.4,678.0 538.4,677.3 541.1,674.0 544.5,678.7 546.5,673.3 548.6,674.0 549.9,677.3 550.3,772.0 551.3,676.7 553.3,665.8 556.0,671.2 559.4,673.3 561.2,669.6 563.0,674.0 566.8,672.6 572.2,673.3 575.6,676.0 577.7,680.7 579.7,677.3 583.1,675.3 585.1,677.3 586.0,717.2 587.1,682.0 588.5,669.2 590.9,665.1 592.5,668.5 594.6,675.3 598.0,675.3 600.0,677.3 602.7,671.9 606.1,669.9 608.1,675.3 612.2,679.4 615.5,678.7 616.6,709.1 618.4,672.6 620.4,670.6 622.4,669.2 624.5,670.6 626.5,669.6 629.9,671.9 632.6,670.6 636.7,670.2 638.7,671.9 642.7,672.6 645.4,674.6 648.2,678.0 648.8,698.3 649.9,678.7 652.2,670.6 654.2,668.5 658.3,672.6 661.7,674.0 665.3,670.6 668.5,674.0 671.8,674.0 672.9,711.8 674.5,677.3 677.2,667.9 680.0,666.5 683.3,671.9 686.7,670.6 688.7,674.0 689.8,724.0 691.5,671.2 693.5,664.5 696.9,667.2 700.2,672.6 705.0,672.6 707.7,673.3 710.4,676.7 713.8,676.0 715.8,678.0 718.5,673.3 721.9,673.3 723.0,674.4 726.7,675.6 729.3,678.2 731.2,674.1 734.9,676.2 737.6,671.7 742.4,672.6 746.9,672.6 748.7,677.4 750.6,673.2 752.9,675.2 755.6,681.2 757.7,676.2 760.0,678.6 762.3,670.0 764.5,679.7 767.5,670.0 769.3,675.9 772.3,676.7 776.0,673.2 779.0,671.4 781.3,672.2 782.8,674.1 784.6,673.2 786.9,682.6 788.7,675.9 791.0,677.4 793.2,677.1 794.7,670.0 797.0,669.6 798.9,671.1 800.7,679.7 802.9,672.2 806.4,678.6 811.5,675.2 813.4,679.7 815.6,674.1 817.1,681.2 818.9,682.6 820.9,673.7 823.1,673.7 824.6,674.4 826.8,672.2 829.1,670.0 831.8,677.4 833.6,695.6 835.5,669.6 837.3,671.7 838.8,670.0 840.7,671.4 842.2,675.2 842.2,778.5" fill="rgba(17,119,226,0.2)"/>
<polyline points="409.7,766.6 412.4,670.6 417.2,675.3 425.3,669.2 426.7,682.7 428.7,679.4 430.4,682.7 432.7,671.9 434.8,676.0 436.8,674.6 441.5,677.3 447.0,677.7 450.3,675.0 451.7,676.4 453.4,674.4 456.2,683.0 459.1,680.4 460.5,681.1 462.5,687.5 464.5,675.3 466.6,674.6 469.3,679.4 471.3,677.3 474.0,680.0 478.1,677.7 480.8,678.0 482.8,676.0 484.8,682.0 486.6,694.2 490.2,670.6 493.0,673.3 497.0,676.0 500.4,680.0 503.1,681.4 506.8,671.0 508.1,677.7 510.3,676.6 512.0,682.0 514.0,679.4 516.1,679.4 516.8,676.0 517.8,722.0 518.8,676.0 520.6,667.2 522.9,669.9 526.2,676.0 528.3,675.3 530.3,672.6 532.3,673.3 534.1,682.0 536.4,678.0 538.4,677.3 541.1,674.0 544.5,678.7 546.5,673.3 548.6,674.0 549.9,677.3 550.3,772.0 551.3,676.7 553.3,665.8 556.0,671.2 559.4,673.3 561.2,669.6 563.0,674.0 566.8,672.6 572.2,673.3 575.6,676.0 577.7,680.7 579.7,677.3 583.1,675.3 585.1,677.3 586.0,717.2 587.1,682.0 588.5,669.2 590.9,665.1 592.5,668.5 594.6,675.3 598.0,675.3 600.0,677.3 602.7,671.9 606.1,669.9 608.1,675.3 612.2,679.4 615.5,678.7 616.6,709.1 618.4,672.6 620.4,670.6 622.4,669.2 624.5,670.6 626.5,669.6 629.9,671.9 632.6,670.6 636.7,670.2 638.7,671.9 642.7,672.6 645.4,674.6 648.2,678.0 648.8,698.3 649.9,678.7 652.2,670.6 654.2,668.5 658.3,672.6 661.7,674.0 665.3,670.6 668.5,674.0 671.8,674.0 672.9,711.8 674.5,677.3 677.2,667.9 680.0,666.5 683.3,671.9 686.7,670.6 688.7,674.0 689.8,724.0 691.5,671.2 693.5,664.5 696.9,667.2 700.2,672.6 705.0,672.6 707.7,673.3 710.4,676.7 713.8,676.0 715.8,678.0 718.5,673.3 721.9,673.3 723.0,674.4 726.7,675.6 729.3,678.2 731.2,674.1 734.9,676.2 737.6,671.7 742.4,672.6 746.9,672.6 748.7,677.4 750.6,673.2 752.9,675.2 755.6,681.2 757.7,676.2 760.0,678.6 762.3,670.0 764.5,679.7 767.5,670.0 769.3,675.9 772.3,676.7 776.0,673.2 779.0,671.4 781.3,672.2 782.8,674.1 784.6,673.2 786.9,682.6 788.7,675.9 791.0,677.4 793.2,677.1 794.7,670.0 797.0,669.6 798.9,671.1 800.7,679.7 802.9,672.2 806.4,678.6 811.5,675.2 813.4,679.7 815.6,674.1 817.1,681.2 818.9,682.6 820.9,673.7 823.1,673.7 824.6,674.4 826.8,672.2 829.1,670.0 831.8,677.4 833.6,695.6 835.5,669.6 837.3,671.7 838.8,670.0 840.7,671.4 842.2,675.2" fill="none" stroke="#1177e2" stroke-width="2" stroke-linejoin="round"/>
<line x1="405.9" y1="654" x2="405.9" y2="779" stroke="#c5d3e3" stroke-width="1.2"/>
<line x1="405" y1="778.9" x2="846.5" y2="778.9" stroke="#c5d3e3" stroke-width="1.2"/>
<line x1="410.4" y1="779" x2="410.4" y2="784" stroke="#c5d3e3" stroke-width="1"/>
<line x1="508.4" y1="779" x2="508.4" y2="784" stroke="#c5d3e3" stroke-width="1"/>
<line x1="606.3" y1="779" x2="606.3" y2="784" stroke="#c5d3e3" stroke-width="1"/>
<line x1="704.8" y1="779" x2="704.8" y2="784" stroke="#c5d3e3" stroke-width="1"/>
<line x1="802.4" y1="779" x2="802.4" y2="784" stroke="#c5d3e3" stroke-width="1"/>
<text x="398.5" y="658.0" text-anchor="end" font-family="Liberation Sans" font-size="11" font-weight="bold" fill="#1a78e0">04:00</text>
<text x="398.5" y="676.2" text-anchor="end" font-family="Liberation Sans" font-size="11" font-weight="bold" fill="#1a78e0">08:00</text>
<text x="398.5" y="694.6" text-anchor="end" font-family="Liberation Sans" font-size="11" font-weight="bold" fill="#1a78e0">12:00</text>
<text x="398.5" y="712.9" text-anchor="end" font-family="Liberation Sans" font-size="11" font-weight="bold" fill="#1a78e0">16:00</text>
<text x="398.5" y="731.1" text-anchor="end" font-family="Liberation Sans" font-size="11" font-weight="bold" fill="#1a78e0">20:00</text>
<text x="398.5" y="749.3" text-anchor="end" font-family="Liberation Sans" font-size="11" font-weight="bold" fill="#1a78e0">24:00</text>
<text x="398.5" y="767.6" text-anchor="end" font-family="Liberation Sans" font-size="11" font-weight="bold" fill="#1a78e0">28:00</text>
<text x="508.4" y="790.8" text-anchor="middle" font-family="Liberation Sans" font-size="11" font-weight="bold" fill="#333">8:20</text>
<text x="606.3" y="790.8" text-anchor="middle" font-family="Liberation Sans" font-size="11" font-weight="bold" fill="#333">16:40</text>
<text x="704.8" y="790.8" text-anchor="middle" font-family="Liberation Sans" font-size="11" font-weight="bold" fill="#333">25:00</text>
<text x="802.4" y="790.8" text-anchor="middle" font-family="Liberation Sans" font-size="11" font-weight="bold" fill="#333">33:20</text>
<text transform="translate(360.2,716) rotate(-90)" text-anchor="middle" font-family="Liberation Sans" font-size="10.5" font-weight="bold" fill="#1a78e0">Pace (min/mi)</text>
</svg>
<svg class="a" style="left:335px;top:857px" width="523" height="67" viewBox="335 857 523 67">
<line x1="398" y1="904.5" x2="846.5" y2="904.5" stroke="#e4e4e4" stroke-width="1"/>
<polygon points="406,930 406.0,909.4 411.6,912.8 417.1,917.4 422.6,917.7 426.7,918.6 432.2,916.9 439.1,917.4 447.4,918.6 455.7,919.9 464.0,919.7 469.5,921.3 477.8,922.4 486.0,920.5 498.4,920.5 504.0,916.3 509.5,915.8 515.0,915.5 519.1,918.3 524.7,920.5 528.8,919.1 532.9,918.3 537.1,919.9 542.6,917.7 552.2,914.1 560.5,913.6 574.3,914.1 588.1,913.6 604.7,913.6 615.7,914.1 635.0,914.1 674.1,913.6 712.8,913.6 718.3,915.0 729.3,917.7 736.2,918.6 743.1,916.9 750.0,914.1 754.1,914.7 759.7,916.9 765.2,917.4 770.7,920.2 779.0,920.2 788.6,921.9 798.3,919.7 812.1,919.1 823.1,917.4 834.1,916.9 841.0,917.7 841,930" fill="rgba(47,145,24,0.2)"/>
<polyline points="406.0,909.4 411.6,912.8 417.1,917.4 422.6,917.7 426.7,918.6 432.2,916.9 439.1,917.4 447.4,918.6 455.7,919.9 464.0,919.7 469.5,921.3 477.8,922.4 486.0,920.5 498.4,920.5 504.0,916.3 509.5,915.8 515.0,915.5 519.1,918.3 524.7,920.5 528.8,919.1 532.9,918.3 537.1,919.9 542.6,917.7 552.2,914.1 560.5,913.6 574.3,914.1 588.1,913.6 604.7,913.6 615.7,914.1 635.0,914.1 674.1,913.6 712.8,913.6 718.3,915.0 729.3,917.7 736.2,918.6 743.1,916.9 750.0,914.1 754.1,914.7 759.7,916.9 765.2,917.4 770.7,920.2 779.0,920.2 788.6,921.9 798.3,919.7 812.1,919.1 823.1,917.4 834.1,916.9 841.0,917.7" fill="none" stroke="#2b8a16" stroke-width="2" stroke-linejoin="round"/>
<line x1="401.9" y1="877" x2="401.9" y2="930" stroke="#c5d3e3" stroke-width="1.2"/>
<text x="394.8" y="908.3" text-anchor="end" font-family="Liberation Sans" font-size="11" font-weight="bold" fill="#2b8a16">200</text>
<text transform="translate(360.5,939.5) rotate(-90)" text-anchor="middle" font-family="Liberation Sans" font-size="10.5" font-weight="bold" fill="#2b8a16">Elevation (ft)</text>
</svg>
<div class="a seldd"><span>Time (h:m:s)</span><span class="arr">▼</span></div>
<!--/CHARTSVG-->
<!--PICONS--><svg class="a" style="left:41px;top:345px" width="15" height="15" viewBox="0 0 15 15"><defs><linearGradient id="cg41345" x1="0" y1="0" x2="0" y2="1"><stop offset="0" stop-color="#fdfdfd"/><stop offset="1" stop-color="#dfe9f5"/></linearGradient></defs><circle cx="7.3" cy="7.3" r="6.1" fill="url(#cg41345)" stroke="#aaa" stroke-width="1.1"/><path d="M7.2,3.6 V7.8 H10" fill="none" stroke="#777" stroke-width="1.1"/></svg><svg class="a" style="left:40px;top:481px" width="16" height="14" viewBox="0 0 16 14"><path d="M1.5,7.5 Q4,8.5 5.5,9 Q7.5,10 9,7.5 L13.5,2" fill="none" stroke="#f05656" stroke-width="1.4"/><path d="M1.8,11.5 L6.2,8 Q7,5.8 8.6,5.6 L13,7.8" fill="none" stroke="#4a8ae0" stroke-width="1.4"/><circle cx="2" cy="7.6" r="1.45" fill="#f26a6a"/><circle cx="8.3" cy="8.6" r="1.45" fill="#f04848"/><circle cx="13.5" cy="2.5" r="1.45" fill="#f26060"/><circle cx="2.2" cy="11.6" r="1.45" fill="#5a8fe0"/><circle cx="7.8" cy="5.4" r="1.45" fill="#5a94e0"/><circle cx="13.3" cy="7.6" r="1.45" fill="#4a80d0"/></svg><svg class="a" style="left:39px;top:586px" width="17" height="15" viewBox="0 0 17 15"><defs><radialGradient id="hg" cx="0.5" cy="0.6" r="0.6"><stop offset="0" stop-color="#f78a8a"/><stop offset="0.7" stop-color="#f9aaaa"/><stop offset="1" stop-color="#f6b7b7"/></radialGradient></defs><path d="M8.4,14 C5,11.5 1.2,8.8 1.2,5.2 C1.2,2.8 3,1.2 5,1.2 C6.6,1.2 7.8,2.2 8.4,3.4 C9,2.2 10.2,1.2 11.8,1.2 C13.8,1.2 15.6,2.8 15.6,5.2 C15.6,8.8 11.8,11.5 8.4,14Z" fill="url(#hg)" stroke="#f3a0a0" stroke-width="0.8"/></svg><svg class="a" style="left:40px;top:628px" width="16" height="16" viewBox="0 0 16 16"><path d="M2.4,6.6 A5.6,5.6 0 1 1 4.8,12.8" fill="none" stroke="#3cb43c" stroke-width="2.6"/><path d="M7.4,7.4 L2.2,7.4 L2.2,13.6 L3.6,13.6 L3.8,10.4 L7,12.6Z" fill="#34a834"/></svg><svg class="a" style="left:361px;top:168px" width="15" height="15" viewBox="0 0 15 15"><rect x="0.5" y="0.5" width="14" height="14" rx="1.5" fill="#c8ccc8" stroke="#a9aea9"/><rect x="2" y="2" width="11" height="11" fill="#eef08a"/><path d="M2,9 L6,6 L8,13 L2,13Z" fill="#a8dc88"/><path d="M8,2 H13 V7 L10,9Z" fill="#a9c9f1"/><path d="M10,13 L13,10 V13Z" fill="#b8e6a0"/><path d="M4,2 L9.8,12.5 L13,8.5" fill="none" stroke="#f07050" stroke-width="1.5"/></svg><svg class="a" style="left:361px;top:612px" width="15" height="15" viewBox="0 0 15 15"><defs><linearGradient id="cg361612" x1="0" y1="0" x2="0" y2="1"><stop offset="0" stop-color="#fdfdfd"/><stop offset="1" stop-color="#dfe9f5"/></linearGradient></defs><circle cx="7.3" cy="7.3" r="6.1" fill="url(#cg361612)" stroke="#aaa" stroke-width="1.1"/><path d="M7.2,3.6 V7.8 H10" fill="none" stroke="#777" stroke-width="1.1"/></svg><svg class="a" style="left:360px;top:834px" width="16" height="14" viewBox="0 0 16 14"><path d="M1.5,7.5 Q4,8.5 5.5,9 Q7.5,10 9,7.5 L13.5,2" fill="none" stroke="#f05656" stroke-width="1.4"/><path d="M1.8,11.5 L6.2,8 Q7,5.8 8.6,5.6 L13,7.8" fill="none" stroke="#4a8ae0" stroke-width="1.4"/><circle cx="2" cy="7.6" r="1.45" fill="#f26a6a"/><circle cx="8.3" cy="8.6" r="1.45" fill="#f04848"/><circle cx="13.5" cy="2.5" r="1.45" fill="#f26060"/><circle cx="2.2" cy="11.6" r="1.45" fill="#5a8fe0"/><circle cx="7.8" cy="5.4" r="1.45" fill="#5a94e0"/><circle cx="13.3" cy="7.6" r="1.45" fill="#4a80d0"/></svg><svg class="a" style="left:842px;top:612px" width="12" height="12" viewBox="0 0 12 12"><path d="M7.5,1.2 H11 V4.7" fill="none" stroke="#555" stroke-width="1.6"/><path d="M10.6,1.6 L7.2,5" stroke="#555" stroke-width="1.6"/><path d="M1.2,6.8 V10.4 H4.8" fill="none" stroke="#555" stroke-width="1.6"/><path d="M1.6,10 L5,6.6" stroke="#555" stroke-width="1.6"/></svg><svg class="a" style="left:842px;top:834px" width="12" height="12" viewBox="0 0 12 12"><path d="M7.5,1.2 H11 V4.7" fill="none" stroke="#555" stroke-width="1.6"/><path d="M10.6,1.6 L7.2,5" stroke="#555" stroke-width="1.6"/><path d="M1.2,6.8 V10.4 H4.8" fill="none" stroke="#555" stroke-width="1.6"/><path d="M1.6,10 L5,6.6" stroke="#555" stroke-width="1.6"/></svg><!--/PICONS-->
</body></html>
